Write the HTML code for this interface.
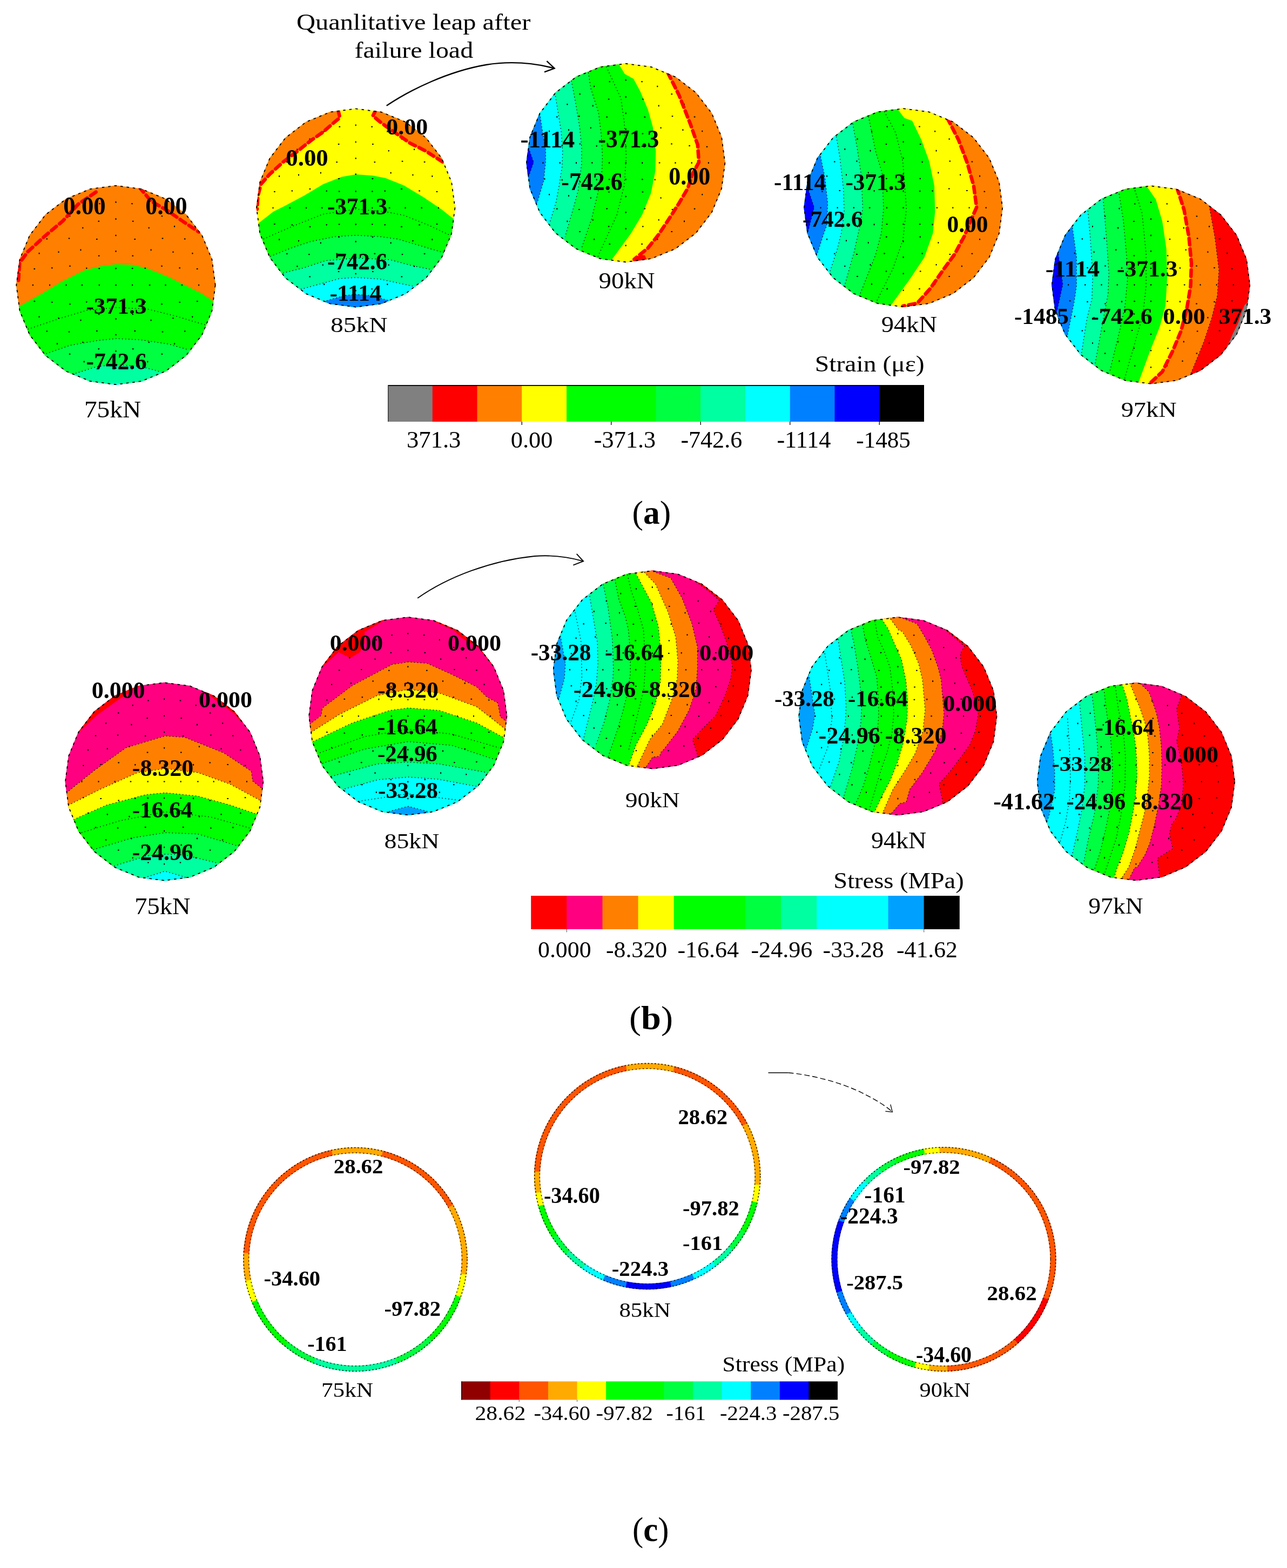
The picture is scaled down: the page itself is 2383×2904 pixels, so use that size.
<!DOCTYPE html>
<html><head><meta charset="utf-8"><title>figure</title><style>html,body{margin:0;padding:0;background:#fff}svg{display:block}</style></head><body>
<svg width="2383" height="2904" viewBox="0 0 2383 2904" font-family="'Liberation Serif', serif" shape-rendering="auto">
<rect width="2383" height="2904" fill="#fff"/>
<defs><clipPath id="kA75"><polygon points="399.3,528.0 393.0,575.8 374.5,620.4 345.2,658.7 306.9,688.0 262.3,706.5 214.5,712.8 166.7,706.5 122.1,688.0 83.8,658.7 54.5,620.4 36.0,575.8 29.7,528.0 36.0,480.2 54.5,435.6 83.8,397.3 122.1,368.0 166.7,349.5 214.5,343.2 262.3,349.5 306.9,368.0 345.2,397.3 374.5,435.6 393.0,480.2"/></clipPath><clipPath id="kA85"><polygon points="843.0,385.0 836.7,432.7 818.3,477.1 789.0,515.3 750.9,544.6 706.4,563.0 658.7,569.3 611.0,563.0 566.6,544.6 528.4,515.3 499.1,477.1 480.7,432.7 474.4,385.0 480.7,337.3 499.1,292.8 528.4,254.7 566.5,225.4 611.0,207.0 658.7,200.7 706.4,207.0 750.9,225.4 789.0,254.7 818.3,292.8 836.7,337.3"/></clipPath><clipPath id="kA90"><polygon points="1343.0,301.6 1336.7,349.3 1318.3,393.8 1289.0,431.9 1250.9,461.2 1206.4,479.6 1158.7,485.9 1111.0,479.6 1066.6,461.2 1028.4,431.9 999.1,393.8 980.7,349.3 974.4,301.6 980.7,253.9 999.1,209.4 1028.4,171.3 1066.5,142.0 1111.0,123.6 1158.7,117.3 1206.4,123.6 1250.9,142.0 1289.0,171.3 1318.3,209.4 1336.7,253.9"/></clipPath><clipPath id="kA94"><polygon points="1856.8,384.7 1850.5,432.4 1832.1,476.8 1802.8,514.9 1764.7,544.2 1720.3,562.6 1672.6,568.9 1624.9,562.6 1580.5,544.2 1542.4,514.9 1513.1,476.8 1494.7,432.4 1488.4,384.7 1494.7,337.0 1513.1,292.6 1542.4,254.5 1580.5,225.2 1624.9,206.8 1672.6,200.5 1720.3,206.8 1764.7,225.2 1802.8,254.5 1832.1,292.6 1850.5,337.0"/></clipPath><clipPath id="kA97"><polygon points="2314.8,527.5 2308.5,575.1 2290.2,619.4 2261.0,657.5 2222.9,686.7 2178.6,705.0 2131.0,711.3 2083.4,705.0 2039.1,686.7 2001.0,657.5 1971.8,619.4 1953.5,575.1 1947.2,527.5 1953.5,479.9 1971.8,435.6 2001.0,397.5 2039.1,368.3 2083.4,350.0 2131.0,343.7 2178.6,350.0 2222.9,368.3 2261.0,397.5 2290.2,435.6 2308.5,479.9"/></clipPath><clipPath id="kB75"><polygon points="488.0,1447.5 481.7,1495.1 463.4,1539.4 434.2,1577.5 396.1,1606.7 351.8,1625.0 304.2,1631.3 256.6,1625.0 212.3,1606.7 174.2,1577.5 145.0,1539.4 126.7,1495.1 120.4,1447.5 126.7,1399.9 145.0,1355.6 174.2,1317.5 212.3,1288.3 256.6,1270.0 304.2,1263.7 351.8,1270.0 396.1,1288.3 434.2,1317.5 463.4,1355.6 481.7,1399.9"/></clipPath><clipPath id="kB85"><polygon points="939.1,1326.2 932.8,1373.8 914.5,1418.1 885.3,1456.2 847.2,1485.4 802.9,1503.7 755.3,1510.0 707.7,1503.7 663.4,1485.4 625.3,1456.2 596.1,1418.1 577.8,1373.8 571.5,1326.2 577.8,1278.6 596.1,1234.3 625.3,1196.2 663.4,1167.0 707.7,1148.7 755.3,1142.4 802.9,1148.7 847.2,1167.0 885.3,1196.2 914.5,1234.3 932.8,1278.6"/></clipPath><clipPath id="kB90"><polygon points="1391.6,1240.4 1385.3,1288.0 1367.0,1332.3 1337.8,1370.4 1299.7,1399.6 1255.4,1417.9 1207.8,1424.2 1160.2,1417.9 1115.9,1399.6 1077.8,1370.4 1048.6,1332.3 1030.3,1288.0 1024.0,1240.4 1030.3,1192.8 1048.6,1148.5 1077.8,1110.4 1115.9,1081.2 1160.2,1062.9 1207.8,1056.6 1255.4,1062.9 1299.7,1081.2 1337.8,1110.4 1367.0,1148.5 1385.3,1192.8"/></clipPath><clipPath id="kB94"><polygon points="1846.2,1326.3 1839.9,1373.9 1821.6,1418.2 1792.4,1456.3 1754.3,1485.5 1710.0,1503.8 1662.4,1510.1 1614.8,1503.8 1570.5,1485.5 1532.4,1456.3 1503.2,1418.2 1484.9,1373.9 1478.6,1326.3 1484.9,1278.7 1503.2,1234.4 1532.4,1196.3 1570.5,1167.1 1614.8,1148.8 1662.4,1142.5 1710.0,1148.8 1754.3,1167.1 1792.4,1196.3 1821.6,1234.4 1839.9,1278.7"/></clipPath><clipPath id="kB97"><polygon points="2286.8,1447.7 2280.6,1495.2 2262.2,1539.4 2233.1,1577.4 2195.1,1606.5 2150.9,1624.9 2103.4,1631.1 2055.9,1624.9 2011.7,1606.5 1973.7,1577.4 1944.6,1539.4 1926.2,1495.2 1920.0,1447.7 1926.2,1400.2 1944.6,1356.0 1973.7,1318.0 2011.7,1288.9 2055.9,1270.5 2103.4,1264.3 2150.9,1270.5 2195.1,1288.9 2233.1,1318.0 2262.2,1356.0 2280.6,1400.2"/></clipPath></defs>
<g clip-path="url(#kA75)"><rect x="28.5" y="342.0" width="372.0" height="372.0" fill="#FF8000"/><polygon points="-49.5,586.6 1.5,586.6 36.3,567.0 77.8,543.6 116.6,520.3 155.5,500.9 186.6,493.1 215.1,489.2 246.2,490.5 272.2,497.0 311.0,512.5 337.0,525.5 373.2,543.6 395.3,557.9 428.9,579.6 478.5,579.6 478.5,792.0 -49.5,792.0" fill="#00FF00"/><polygon points="-49.5,668.4 47.8,668.4 85.5,655.1 129.6,639.6 181.4,630.5 215.1,627.1 259.2,629.2 311.0,637.0 347.3,647.3 385.8,658.2 478.5,658.2 478.5,792.0 -49.5,792.0" fill="#00FF40"/><polygon points="-49.5,703.4 101.8,703.4 140.0,691.4 181.4,678.4 215.1,675.8 259.2,678.4 298.1,688.8 336.7,699.1 478.5,699.1 478.5,792.0 -49.5,792.0" fill="#00FFA0"/><polygon points="-49.5,728.8 163.2,728.8 200.0,713.0 207.0,710.0 215.0,709.0 223.0,710.0 230.0,713.0 266.8,728.8 478.5,728.8 478.5,792.0 -49.5,792.0" fill="#00FFFF"/><g fill="none" stroke="#000" stroke-width="1.3" stroke-dasharray="1.6 4.4"><polyline points="51.8,609.7 108.9,590.3 160.7,574.8 215.1,569.6 272.2,572.2 324.0,585.1 381.0,602.0"/><polyline points="85.5,655.1 129.6,639.6 181.4,630.5 215.1,627.1 259.2,629.2 311.0,637.0 347.3,647.3"/><polyline points="140.0,691.4 181.4,678.4 215.1,675.8 259.2,678.4 298.1,688.8"/></g><path d="M182.5 496.3h2.6v2.0h-2.6zM182.8 526.7h2.0v2.6h-2.0zM182.5 557.7h2.6v2.0h-2.6zM213.5 496.0h2.0v2.6h-2.0zM213.2 527.0h2.6v2.0h-2.6zM213.5 557.4h2.0v2.6h-2.0zM243.9 496.3h2.6v2.0h-2.6zM244.2 526.7h2.0v2.6h-2.0zM243.9 557.7h2.6v2.0h-2.6zM213.5 464.1h2.0v2.6h-2.0zM244.5 472.8h2.6v2.0h-2.6zM267.7 495.4h2.0v2.6h-2.0zM275.8 527.0h2.6v2.0h-2.6zM267.7 558.0h2.0v2.6h-2.0zM244.5 581.2h2.6v2.0h-2.6zM213.5 589.3h2.0v2.6h-2.0zM181.9 581.2h2.6v2.0h-2.6zM159.3 558.0h2.0v2.6h-2.0zM150.6 527.0h2.6v2.0h-2.6zM159.3 495.4h2.0v2.6h-2.0zM181.9 472.8h2.6v2.0h-2.6zM213.5 434.7h2.0v2.6h-2.0zM248.4 442.0h2.6v2.0h-2.6zM278.6 461.6h2.0v2.6h-2.0zM298.2 491.8h2.6v2.0h-2.6zM305.5 526.7h2.0v2.6h-2.0zM298.2 562.2h2.6v2.0h-2.6zM278.6 591.8h2.0v2.6h-2.0zM248.4 612.0h2.6v2.0h-2.6zM213.5 618.7h2.0v2.6h-2.0zM178.0 612.0h2.6v2.0h-2.6zM148.4 591.8h2.0v2.6h-2.0zM128.2 562.2h2.6v2.0h-2.6zM121.5 526.7h2.0v2.6h-2.0zM128.2 491.8h2.6v2.0h-2.6zM148.4 461.6h2.0v2.6h-2.0zM178.0 442.0h2.6v2.0h-2.6zM213.5 404.3h2.0v2.6h-2.0zM244.9 408.8h2.6v2.0h-2.6zM274.7 420.7h2.0v2.6h-2.0zM299.7 440.5h2.6v2.0h-2.6zM319.5 465.5h2.0v2.6h-2.0zM331.4 495.3h2.6v2.0h-2.6zM335.9 526.7h2.0v2.6h-2.0zM331.4 558.7h2.6v2.0h-2.6zM319.5 587.9h2.0v2.6h-2.0zM299.7 613.5h2.6v2.0h-2.6zM274.7 632.7h2.0v2.6h-2.0zM244.9 645.2h2.6v2.0h-2.6zM213.5 649.1h2.0v2.6h-2.0zM181.5 645.2h2.6v2.0h-2.6zM152.3 632.7h2.0v2.6h-2.0zM126.7 613.5h2.6v2.0h-2.6zM107.5 587.9h2.0v2.6h-2.0zM95.0 558.7h2.6v2.0h-2.6zM91.1 526.7h2.0v2.6h-2.0zM95.0 495.3h2.6v2.0h-2.6zM107.5 465.5h2.0v2.6h-2.0zM126.7 440.5h2.6v2.0h-2.6zM152.3 420.7h2.0v2.6h-2.0zM181.5 408.8h2.6v2.0h-2.6zM213.5 373.1h2.0v2.6h-2.0zM243.2 376.3h2.6v2.0h-2.6zM272.3 384.8h2.0v2.6h-2.0zM298.6 399.3h2.6v2.0h-2.6zM322.1 418.1h2.0v2.6h-2.0zM340.9 441.6h2.6v2.0h-2.6zM355.4 467.9h2.0v2.6h-2.0zM363.9 497.0h2.6v2.0h-2.6zM367.1 526.7h2.0v2.6h-2.0zM363.9 557.0h2.6v2.0h-2.6zM355.4 585.5h2.0v2.6h-2.0zM340.9 612.4h2.6v2.0h-2.6zM322.1 635.3h2.0v2.6h-2.0zM298.6 654.7h2.6v2.0h-2.6zM272.3 668.6h2.0v2.6h-2.0zM243.2 677.7h2.6v2.0h-2.6zM213.5 680.3h2.0v2.6h-2.0zM183.2 677.7h2.6v2.0h-2.6zM154.7 668.6h2.0v2.6h-2.0zM127.8 654.7h2.6v2.0h-2.6zM104.9 635.3h2.0v2.6h-2.0zM85.5 612.4h2.6v2.0h-2.6zM71.6 585.5h2.0v2.6h-2.0zM62.5 557.0h2.6v2.0h-2.6zM59.9 526.7h2.0v2.6h-2.0zM62.5 497.0h2.6v2.0h-2.6zM71.6 467.9h2.0v2.6h-2.0zM85.5 441.6h2.6v2.0h-2.6zM104.9 418.1h2.0v2.6h-2.0zM127.8 399.3h2.6v2.0h-2.6zM154.7 384.8h2.0v2.6h-2.0zM183.2 376.3h2.6v2.0h-2.6z" fill="#000"/><polyline points="177.6,355.7 145.2,377.8 116.6,408.9 82.9,437.4 51.8,465.9 36.3,486.6 33.7,525.5" fill="none" stroke="#FF0000" stroke-width="6.5" stroke-dasharray="12 7.5" stroke-linecap="round"/><polyline points="257.9,346.7 279.9,372.6 311.0,390.7 337.0,408.9 368.1,429.6" fill="none" stroke="#FF0000" stroke-width="6.5" stroke-dasharray="12 7.5" stroke-linecap="round"/></g><polygon points="398.7,528.0 392.4,575.7 374.0,620.1 344.7,658.2 306.6,687.5 262.2,705.9 214.5,712.2 166.8,705.9 122.4,687.5 84.3,658.2 55.0,620.1 36.6,575.7 30.3,528.0 36.6,480.3 55.0,435.9 84.3,397.8 122.4,368.5 166.8,350.1 214.5,343.8 262.2,350.1 306.6,368.5 344.7,397.8 374.0,435.9 392.4,480.3" fill="none" stroke="#000" stroke-width="1.8" stroke-dasharray="4.5 7"/>
<text x="117.3" y="397.0" font-size="46.3" font-weight="bold" textLength="78.4" lengthAdjust="spacingAndGlyphs">0.00</text>
<text x="269.3" y="397.0" font-size="46.3" font-weight="bold" textLength="77.4" lengthAdjust="spacingAndGlyphs">0.00</text>
<text x="159.4" y="581.0" font-size="42.0" font-weight="bold" textLength="112.1" lengthAdjust="spacingAndGlyphs">-371.3</text>
<text x="159.4" y="684.0" font-size="43.5" font-weight="bold">-742.6</text>
<text x="155.9" y="773.0" font-size="44.7" textLength="105.2" lengthAdjust="spacingAndGlyphs">75kN</text>
<g clip-path="url(#kA85)"><rect x="473.2" y="199.5" width="371.0" height="371.0" fill="#FFFF00"/><polygon points="395.2,437.3 448.1,437.3 479.6,412.7 506.1,392.0 529.1,380.5 563.7,362.0 598.2,341.3 632.8,327.5 659.3,322.9 690.4,325.2 713.5,329.8 748.0,343.6 782.6,364.3 817.1,387.4 840.2,405.8 871.5,430.7 922.2,430.7 922.2,648.5 395.2,648.5" fill="#00FF00"/><polygon points="395.2,489.7 463.2,489.7 500.3,474.9 540.6,458.8 575.2,447.3 621.3,438.1 659.3,435.8 701.9,438.1 736.5,442.7 782.6,456.5 821.7,468.0 860.1,479.3 922.2,479.3 922.2,648.5 395.2,648.5" fill="#00FF40"/><polygon points="395.2,515.5 485.2,515.5 524.0,505.7 563.7,495.7 603.2,482.7 659.4,478.1 721.2,480.8 759.5,491.1 798.6,499.3 837.7,507.5 922.2,507.5 922.2,648.5 395.2,648.5" fill="#00FFA0"/><polygon points="395.2,527.6 517.4,527.6 556.8,534.8 559.0,535.2 629.0,515.9 659.4,514.0 702.8,516.8 767.3,530.6 806.4,539.0 922.2,539.0 922.2,648.5 395.2,648.5" fill="#00FFFF"/><polygon points="395.2,585.8 569.4,585.8 600.0,560.0 603.2,557.3 638.2,547.2 659.4,545.3 684.3,547.2 719.4,556.4 722.0,559.0 750.3,587.3 922.2,587.3 922.2,648.5 395.2,648.5" fill="#0080FF"/><polygon points="625.9,203.0 629.4,218.0 616.7,228.4 598.2,244.5 575.2,260.6 552.2,279.1 524.5,299.8 499.2,322.9 483.0,341.3 477.3,364.3 476.1,387.4 420.0,387.4 420.0,150.0 625.9,150.0" fill="#FF8000"/><polygon points="696.2,203.0 690.4,214.6 704.2,226.1 713.5,233.0 736.5,249.1 759.5,265.3 787.2,279.1 819.4,299.8 900.0,299.8 900.0,150.0 696.2,150.0" fill="#FF8000"/><g fill="none" stroke="#000" stroke-width="1.3" stroke-dasharray="1.6 4.4"><polyline points="487.6,442.7 540.6,419.6 598.2,396.6 659.3,387.4 713.5,392.0 748.0,398.9 794.1,417.3 833.3,435.8"/><polyline points="500.3,474.9 540.6,458.8 575.2,447.3 621.3,438.1 659.3,435.8 701.9,438.1 736.5,442.7 782.6,456.5 821.7,468.0"/><polyline points="524.0,505.7 563.7,495.7 603.2,482.7 659.4,478.1 721.2,480.8 759.5,491.1 798.6,499.3"/><polyline points="556.8,534.8 559.0,535.2 629.0,515.9 659.4,514.0 702.8,516.8 767.3,530.6"/><polyline points="600.0,560.0 603.2,557.3 638.2,547.2 659.4,545.3 684.3,547.2 719.4,556.4 722.0,559.0"/></g><path d="M626.8 353.4h2.6v2.0h-2.6zM627.1 383.7h2.0v2.6h-2.0zM626.8 414.6h2.6v2.0h-2.6zM657.7 353.1h2.0v2.6h-2.0zM657.4 384.0h2.6v2.0h-2.6zM657.7 414.3h2.0v2.6h-2.0zM688.0 353.4h2.6v2.0h-2.6zM688.3 383.7h2.0v2.6h-2.0zM688.0 414.6h2.6v2.0h-2.6zM657.7 321.3h2.0v2.6h-2.0zM688.6 330.0h2.6v2.0h-2.6zM711.7 352.5h2.0v2.6h-2.0zM719.8 384.0h2.6v2.0h-2.6zM711.7 414.9h2.0v2.6h-2.0zM688.6 438.0h2.6v2.0h-2.6zM657.7 446.1h2.0v2.6h-2.0zM626.2 438.0h2.6v2.0h-2.6zM603.7 414.9h2.0v2.6h-2.0zM595.0 384.0h2.6v2.0h-2.6zM603.7 352.5h2.0v2.6h-2.0zM626.2 330.0h2.6v2.0h-2.6zM657.7 291.9h2.0v2.6h-2.0zM692.5 299.2h2.6v2.0h-2.6zM722.6 318.8h2.0v2.6h-2.0zM742.2 348.9h2.6v2.0h-2.6zM749.5 383.7h2.0v2.6h-2.0zM742.2 419.1h2.6v2.0h-2.6zM722.6 448.6h2.0v2.6h-2.0zM692.5 468.8h2.6v2.0h-2.6zM657.7 475.4h2.0v2.6h-2.0zM622.3 468.8h2.6v2.0h-2.6zM592.8 448.6h2.0v2.6h-2.0zM572.6 419.1h2.6v2.0h-2.6zM566.0 383.7h2.0v2.6h-2.0zM572.6 348.9h2.6v2.0h-2.6zM592.8 318.8h2.0v2.6h-2.0zM622.3 299.2h2.6v2.0h-2.6zM657.7 261.7h2.0v2.6h-2.0zM689.0 266.1h2.6v2.0h-2.6zM718.7 278.0h2.0v2.6h-2.0zM743.7 297.7h2.6v2.0h-2.6zM763.4 322.7h2.0v2.6h-2.0zM775.3 352.4h2.6v2.0h-2.6zM779.7 383.7h2.0v2.6h-2.0zM775.3 415.6h2.6v2.0h-2.6zM763.4 444.7h2.0v2.6h-2.0zM743.7 470.3h2.6v2.0h-2.6zM718.7 489.4h2.0v2.6h-2.0zM689.0 501.9h2.6v2.0h-2.6zM657.7 505.7h2.0v2.6h-2.0zM625.8 501.9h2.6v2.0h-2.6zM596.7 489.4h2.0v2.6h-2.0zM571.1 470.3h2.6v2.0h-2.6zM552.0 444.7h2.0v2.6h-2.0zM539.5 415.6h2.6v2.0h-2.6zM535.7 383.7h2.0v2.6h-2.0zM539.5 352.4h2.6v2.0h-2.6zM552.0 322.7h2.0v2.6h-2.0zM571.1 297.7h2.6v2.0h-2.6zM596.7 278.0h2.0v2.6h-2.0zM625.8 266.1h2.6v2.0h-2.6zM657.7 230.5h2.0v2.6h-2.0zM687.3 233.7h2.6v2.0h-2.6zM716.3 242.1h2.0v2.6h-2.0zM742.5 256.6h2.6v2.0h-2.6zM766.0 275.4h2.0v2.6h-2.0zM784.8 298.9h2.6v2.0h-2.6zM799.3 325.1h2.0v2.6h-2.0zM807.7 354.1h2.6v2.0h-2.6zM810.9 383.7h2.0v2.6h-2.0zM807.7 413.9h2.6v2.0h-2.6zM799.3 442.3h2.0v2.6h-2.0zM784.8 469.1h2.6v2.0h-2.6zM766.0 492.0h2.0v2.6h-2.0zM742.5 511.4h2.6v2.0h-2.6zM716.3 525.3h2.0v2.6h-2.0zM687.3 534.3h2.6v2.0h-2.6zM657.7 536.9h2.0v2.6h-2.0zM627.5 534.3h2.6v2.0h-2.6zM599.1 525.3h2.0v2.6h-2.0zM572.3 511.4h2.6v2.0h-2.6zM549.4 492.0h2.0v2.6h-2.0zM530.0 469.1h2.6v2.0h-2.6zM516.1 442.3h2.0v2.6h-2.0zM507.1 413.9h2.6v2.0h-2.6zM504.5 383.7h2.0v2.6h-2.0zM507.1 354.1h2.6v2.0h-2.6zM516.1 325.1h2.0v2.6h-2.0zM530.0 298.9h2.6v2.0h-2.6zM549.4 275.4h2.0v2.6h-2.0zM572.3 256.6h2.6v2.0h-2.6zM599.1 242.1h2.0v2.6h-2.0zM627.5 233.7h2.6v2.0h-2.6z" fill="#000"/><polyline points="625.9,203.0 629.4,218.0 616.7,228.4 598.2,244.5 575.2,260.6 552.2,279.1 524.5,299.8 499.2,322.9 483.0,341.3 477.3,364.3 476.1,387.4" fill="none" stroke="#FF0000" stroke-width="6.5" stroke-dasharray="12 7.5" stroke-linecap="round"/><polyline points="696.2,203.0 690.4,214.6 704.2,226.1 713.5,233.0 736.5,249.1 759.5,265.3 787.2,279.1 819.4,299.8" fill="none" stroke="#FF0000" stroke-width="6.5" stroke-dasharray="12 7.5" stroke-linecap="round"/></g><polygon points="842.4,385.0 836.1,432.5 817.8,476.8 788.6,514.9 750.6,544.1 706.2,562.4 658.7,568.7 611.2,562.4 566.9,544.1 528.8,514.9 499.6,476.8 481.3,432.5 475.0,385.0 481.3,337.5 499.6,293.1 528.8,255.1 566.8,225.9 611.2,207.6 658.7,201.3 706.2,207.6 750.6,225.9 788.6,255.1 817.8,293.1 836.1,337.5" fill="none" stroke="#000" stroke-width="1.8" stroke-dasharray="4.5 7"/>
<text x="529.3" y="307.0" font-size="44.8" font-weight="bold">0.00</text>
<text x="715.3" y="249.0" font-size="42.6" font-weight="bold" textLength="76.9" lengthAdjust="spacingAndGlyphs">0.00</text>
<text x="605.9" y="396.6" font-size="44.4" font-weight="bold" textLength="111.4" lengthAdjust="spacingAndGlyphs">-371.3</text>
<text x="605.9" y="499.0" font-size="45.0" font-weight="bold" textLength="111.1" lengthAdjust="spacingAndGlyphs">-742.6</text>
<text x="610.4" y="556.7" font-size="43.2" font-weight="bold">-1114</text>
<text x="611.9" y="615.0" font-size="40.8" textLength="105.7" lengthAdjust="spacingAndGlyphs">85kN</text>
<g clip-path="url(#kA90)"><rect x="973.2" y="116.1" width="371.0" height="371.0" fill="#FF8000"/><polygon points="1218.6,38.1 1218.6,98.8 1236.5,134.6 1257.2,176.0 1278.0,229.0 1291.8,268.2 1294.0,300.5 1282.6,321.2 1273.4,348.8 1257.2,376.5 1236.5,408.8 1218.0,436.4 1199.6,459.4 1174.3,480.2 1143.4,505.6 1143.4,565.1 895.2,565.1 895.2,38.1" fill="#FFFF00"/><polygon points="1126.0,38.1 1126.0,86.7 1146.9,120.8 1156.8,137.0 1173.0,146.0 1185.5,169.3 1199.9,203.4 1208.9,235.7 1214.3,280.6 1213.4,316.5 1205.3,357.8 1189.1,397.4 1167.6,433.3 1133.4,480.0 1109.8,512.3 1109.8,565.1 895.2,565.1 895.2,38.1" fill="#00FF00"/><polygon points="1083.3,38.1 1083.3,94.7 1089.4,134.2 1094.0,163.9 1108.3,208.8 1113.7,253.7 1115.5,289.6 1114.6,316.5 1106.5,359.6 1095.7,404.5 1076.0,462.0 1063.0,499.8 1063.0,565.1 895.2,565.1 895.2,38.1" fill="#00FF40"/><polygon points="1050.5,38.1 1050.5,110.2 1058.0,149.5 1065.2,187.2 1073.3,235.7 1076.9,271.6 1076.9,304.0 1070.6,352.5 1063.4,379.4 1046.3,438.7 1035.2,477.1 1035.2,565.1 895.2,565.1 895.2,38.1" fill="#00FFA0"/><polygon points="1021.1,38.1 1021.1,132.5 1027.5,172.0 1032.0,199.8 1039.1,243.0 1041.8,280.6 1041.0,307.6 1034.7,347.0 1029.3,375.8 1017.6,413.5 1005.7,451.7 1005.7,565.1 895.2,565.1 895.2,38.1" fill="#00FFFF"/><polygon points="993.9,38.1 993.9,171.0 999.6,210.6 1003.2,235.7 1010.4,277.0 1010.4,298.6 1006.8,334.5 995.1,374.0 983.7,412.4 983.7,565.1 895.2,565.1 895.2,38.1" fill="#0080FF"/><polygon points="950.6,38.1 950.6,238.3 975.0,270.0 979.0,275.2 988.0,300.4 978.0,329.0 975.0,334.0 954.4,368.3 954.4,565.1 895.2,565.1 895.2,38.1" fill="#0000FF"/><polygon points="1175.0,484.0 1178.0,476.0 1186.0,472.0 1194.0,473.0 1197.0,480.0 1196.0,488.0 1176.0,488.0" fill="#FF0000"/><g fill="none" stroke="#000" stroke-width="1.3" stroke-dasharray="1.6 4.4"><polyline points="1122.7,123.5 1149.6,181.8 1155.9,226.7 1159.5,289.6 1155.9,343.5 1142.4,397.4 1106.5,476.4"/><polyline points="1089.4,134.2 1094.0,163.9 1108.3,208.8 1113.7,253.7 1115.5,289.6 1114.6,316.5 1106.5,359.6 1095.7,404.5 1076.0,462.0"/><polyline points="1058.0,149.5 1065.2,187.2 1073.3,235.7 1076.9,271.6 1076.9,304.0 1070.6,352.5 1063.4,379.4 1046.3,438.7"/><polyline points="1027.5,172.0 1032.0,199.8 1039.1,243.0 1041.8,280.6 1041.0,307.6 1034.7,347.0 1029.3,375.8 1017.6,413.5"/><polyline points="999.6,210.6 1003.2,235.7 1010.4,277.0 1010.4,298.6 1006.8,334.5 995.1,374.0"/><polyline points="975.0,270.0 979.0,275.2 988.0,300.4 978.0,329.0 975.0,334.0"/></g><path d="M1126.8 270.0h2.6v2.0h-2.6zM1127.1 300.3h2.0v2.6h-2.0zM1126.8 331.2h2.6v2.0h-2.6zM1157.7 269.7h2.0v2.6h-2.0zM1157.4 300.6h2.6v2.0h-2.6zM1157.7 330.9h2.0v2.6h-2.0zM1188.0 270.0h2.6v2.0h-2.6zM1188.3 300.3h2.0v2.6h-2.0zM1188.0 331.2h2.6v2.0h-2.6zM1157.7 237.9h2.0v2.6h-2.0zM1188.6 246.6h2.6v2.0h-2.6zM1211.7 269.1h2.0v2.6h-2.0zM1219.8 300.6h2.6v2.0h-2.6zM1211.7 331.5h2.0v2.6h-2.0zM1188.6 354.6h2.6v2.0h-2.6zM1157.7 362.7h2.0v2.6h-2.0zM1126.2 354.6h2.6v2.0h-2.6zM1103.7 331.5h2.0v2.6h-2.0zM1095.0 300.6h2.6v2.0h-2.6zM1103.7 269.1h2.0v2.6h-2.0zM1126.2 246.6h2.6v2.0h-2.6zM1157.7 208.6h2.0v2.6h-2.0zM1192.5 215.8h2.6v2.0h-2.6zM1222.6 235.4h2.0v2.6h-2.0zM1242.2 265.5h2.6v2.0h-2.6zM1249.5 300.3h2.0v2.6h-2.0zM1242.2 335.7h2.6v2.0h-2.6zM1222.6 365.2h2.0v2.6h-2.0zM1192.5 385.4h2.6v2.0h-2.6zM1157.7 392.1h2.0v2.6h-2.0zM1122.3 385.4h2.6v2.0h-2.6zM1092.8 365.2h2.0v2.6h-2.0zM1072.6 335.7h2.6v2.0h-2.6zM1066.0 300.3h2.0v2.6h-2.0zM1072.6 265.5h2.6v2.0h-2.6zM1092.8 235.4h2.0v2.6h-2.0zM1122.3 215.8h2.6v2.0h-2.6zM1157.7 178.3h2.0v2.6h-2.0zM1189.0 182.7h2.6v2.0h-2.6zM1218.7 194.6h2.0v2.6h-2.0zM1243.7 214.3h2.6v2.0h-2.6zM1263.4 239.3h2.0v2.6h-2.0zM1275.3 269.0h2.6v2.0h-2.6zM1279.7 300.3h2.0v2.6h-2.0zM1275.3 332.2h2.6v2.0h-2.6zM1263.4 361.3h2.0v2.6h-2.0zM1243.7 386.9h2.6v2.0h-2.6zM1218.7 406.0h2.0v2.6h-2.0zM1189.0 418.5h2.6v2.0h-2.6zM1157.7 422.3h2.0v2.6h-2.0zM1125.8 418.5h2.6v2.0h-2.6zM1096.7 406.0h2.0v2.6h-2.0zM1071.1 386.9h2.6v2.0h-2.6zM1052.0 361.3h2.0v2.6h-2.0zM1039.5 332.2h2.6v2.0h-2.6zM1035.7 300.3h2.0v2.6h-2.0zM1039.5 269.0h2.6v2.0h-2.6zM1052.0 239.3h2.0v2.6h-2.0zM1071.1 214.3h2.6v2.0h-2.6zM1096.7 194.6h2.0v2.6h-2.0zM1125.8 182.7h2.6v2.0h-2.6zM1157.7 147.1h2.0v2.6h-2.0zM1187.3 150.3h2.6v2.0h-2.6zM1216.3 158.7h2.0v2.6h-2.0zM1242.5 173.2h2.6v2.0h-2.6zM1266.0 192.0h2.0v2.6h-2.0zM1284.8 215.5h2.6v2.0h-2.6zM1299.3 241.7h2.0v2.6h-2.0zM1307.7 270.7h2.6v2.0h-2.6zM1310.9 300.3h2.0v2.6h-2.0zM1307.7 330.5h2.6v2.0h-2.6zM1299.3 358.9h2.0v2.6h-2.0zM1284.8 385.7h2.6v2.0h-2.6zM1266.0 408.6h2.0v2.6h-2.0zM1242.5 428.0h2.6v2.0h-2.6zM1216.3 441.9h2.0v2.6h-2.0zM1187.3 450.9h2.6v2.0h-2.6zM1157.7 453.5h2.0v2.6h-2.0zM1127.5 450.9h2.6v2.0h-2.6zM1099.1 441.9h2.0v2.6h-2.0zM1072.3 428.0h2.6v2.0h-2.6zM1049.4 408.6h2.0v2.6h-2.0zM1030.0 385.7h2.6v2.0h-2.6zM1016.1 358.9h2.0v2.6h-2.0zM1007.1 330.5h2.6v2.0h-2.6zM1004.5 300.3h2.0v2.6h-2.0zM1007.1 270.7h2.6v2.0h-2.6zM1016.1 241.7h2.0v2.6h-2.0zM1030.0 215.5h2.6v2.0h-2.6zM1049.4 192.0h2.0v2.6h-2.0zM1072.3 173.2h2.6v2.0h-2.6zM1099.1 158.7h2.0v2.6h-2.0zM1127.5 150.3h2.6v2.0h-2.6z" fill="#000"/><polyline points="1236.5,134.6 1257.2,176.0 1278.0,229.0 1291.8,268.2 1294.0,300.5 1282.6,321.2 1273.4,348.8 1257.2,376.5 1236.5,408.8 1218.0,436.4 1199.6,459.4 1174.3,480.2" fill="none" stroke="#FF0000" stroke-width="6.5" stroke-dasharray="12 7.5" stroke-linecap="round"/></g><polygon points="1342.4,301.6 1336.1,349.1 1317.8,393.4 1288.6,431.5 1250.5,460.7 1206.2,479.0 1158.7,485.3 1111.2,479.0 1066.9,460.7 1028.8,431.5 999.6,393.4 981.3,349.1 975.0,301.6 981.3,254.1 999.6,209.8 1028.8,171.7 1066.8,142.5 1111.2,124.2 1158.7,117.9 1206.2,124.2 1250.5,142.5 1288.6,171.7 1317.8,209.7 1336.1,254.1" fill="none" stroke="#000" stroke-width="1.8" stroke-dasharray="4.5 7"/>
<text x="963.4" y="273.4" font-size="44.7" font-weight="bold" textLength="100.9" lengthAdjust="spacingAndGlyphs">-1114</text>
<text x="1107.6" y="273.4" font-size="45.9" font-weight="bold" textLength="112.6" lengthAdjust="spacingAndGlyphs">-371.3</text>
<text x="1039.3" y="351.6" font-size="45.9" font-weight="bold" textLength="113.4" lengthAdjust="spacingAndGlyphs">-742.6</text>
<text x="1238.3" y="342.0" font-size="46.3" font-weight="bold" textLength="77.1" lengthAdjust="spacingAndGlyphs">0.00</text>
<text x="1108.6" y="534.0" font-size="43.2" textLength="104.0" lengthAdjust="spacingAndGlyphs">90kN</text>
<g clip-path="url(#kA94)"><rect x="1487.2" y="199.3" width="370.8" height="370.8" fill="#FF8000"/><polygon points="1735.6,121.3 1735.6,182.8 1753.9,218.4 1775.0,259.5 1791.0,301.9 1802.9,344.3 1808.2,384.0 1798.9,405.2 1785.7,437.0 1767.1,471.5 1745.9,500.6 1722.0,535.0 1698.2,561.6 1671.7,566.9 1632.5,574.7 1632.5,648.1 1409.2,648.1 1409.2,121.3" fill="#FFFF00"/><polygon points="1638.3,121.3 1638.3,170.6 1662.4,202.5 1674.4,218.4 1689.0,223.7 1706.2,259.5 1720.7,299.2 1730.0,344.3 1731.3,392.0 1727.4,431.7 1711.5,476.8 1685.0,516.5 1650.5,564.2 1627.1,596.6 1627.1,648.1 1409.2,648.1 1409.2,121.3" fill="#00FF00"/><polygon points="1600.1,121.3 1600.1,176.6 1608.1,215.8 1621.4,280.7 1633.3,320.4 1636.0,386.7 1632.0,431.7 1621.4,471.5 1592.2,545.7 1577.6,582.9 1577.6,648.1 1409.2,648.1 1409.2,121.3" fill="#00FF40"/><polygon points="1571.9,121.3 1571.9,189.6 1579.0,229.0 1586.9,272.7 1594.9,325.7 1597.5,386.7 1592.2,418.5 1581.6,466.2 1564.4,527.1 1553.5,565.6 1553.5,648.1 1409.2,648.1 1409.2,121.3" fill="#00FFA0"/><polygon points="1541.7,121.3 1541.7,213.5 1548.5,252.9 1555.1,291.3 1561.8,349.6 1563.1,392.0 1557.8,431.7 1549.8,463.5 1536.6,503.3 1524.0,541.3 1524.0,648.1 1409.2,648.1 1409.2,121.3" fill="#00FFFF"/><polygon points="1511.3,121.3 1511.3,250.8 1519.4,290.0 1527.3,328.4 1532.6,376.0 1531.3,415.8 1524.7,434.4 1512.7,471.5 1500.4,509.6 1500.4,648.1 1409.2,648.1 1409.2,121.3" fill="#0080FF"/><polygon points="1482.8,121.3 1482.8,296.1 1492.0,335.0 1494.2,344.3 1507.4,384.0 1496.8,426.4 1494.0,434.0 1480.2,471.5 1480.2,648.1 1409.2,648.1 1409.2,121.3" fill="#0000FF"/><g fill="none" stroke="#000" stroke-width="1.3" stroke-dasharray="1.6 4.4"><polyline points="1637.3,206.5 1658.5,246.2 1671.7,299.2 1678.3,386.7 1671.7,445.0 1653.2,498.0 1621.4,561.6"/><polyline points="1608.1,215.8 1621.4,280.7 1633.3,320.4 1636.0,386.7 1632.0,431.7 1621.4,471.5 1592.2,545.7"/><polyline points="1579.0,229.0 1586.9,272.7 1594.9,325.7 1597.5,386.7 1592.2,418.5 1581.6,466.2 1564.4,527.1"/><polyline points="1548.5,252.9 1555.1,291.3 1561.8,349.6 1563.1,392.0 1557.8,431.7 1549.8,463.5 1536.6,503.3"/><polyline points="1519.4,290.0 1527.3,328.4 1532.6,376.0 1531.3,415.8 1524.7,434.4 1512.7,471.5"/><polyline points="1492.0,335.0 1494.2,344.3 1507.4,384.0 1496.8,426.4 1494.0,434.0"/></g><path d="M1640.7 353.1h2.6v2.0h-2.6zM1641.0 383.4h2.0v2.6h-2.0zM1640.7 414.3h2.6v2.0h-2.6zM1671.6 352.8h2.0v2.6h-2.0zM1671.3 383.7h2.6v2.0h-2.6zM1671.6 414.0h2.0v2.6h-2.0zM1701.9 353.1h2.6v2.0h-2.6zM1702.2 383.4h2.0v2.6h-2.0zM1701.9 414.3h2.6v2.0h-2.6zM1671.6 321.0h2.0v2.6h-2.0zM1702.5 329.7h2.6v2.0h-2.6zM1725.6 352.2h2.0v2.6h-2.0zM1733.7 383.7h2.6v2.0h-2.6zM1725.6 414.6h2.0v2.6h-2.0zM1702.5 437.7h2.6v2.0h-2.6zM1671.6 445.8h2.0v2.6h-2.0zM1640.1 437.7h2.6v2.0h-2.6zM1617.6 414.6h2.0v2.6h-2.0zM1608.9 383.7h2.6v2.0h-2.6zM1617.6 352.2h2.0v2.6h-2.0zM1640.1 329.7h2.6v2.0h-2.6zM1671.6 291.7h2.0v2.6h-2.0zM1706.4 299.0h2.6v2.0h-2.6zM1736.4 318.6h2.0v2.6h-2.0zM1756.0 348.6h2.6v2.0h-2.6zM1763.3 383.4h2.0v2.6h-2.0zM1756.0 418.8h2.6v2.0h-2.6zM1736.4 448.2h2.0v2.6h-2.0zM1706.4 468.4h2.6v2.0h-2.6zM1671.6 475.1h2.0v2.6h-2.0zM1636.2 468.4h2.6v2.0h-2.6zM1606.8 448.2h2.0v2.6h-2.0zM1586.6 418.8h2.6v2.0h-2.6zM1579.9 383.4h2.0v2.6h-2.0zM1586.6 348.6h2.6v2.0h-2.6zM1606.8 318.6h2.0v2.6h-2.0zM1636.2 299.0h2.6v2.0h-2.6zM1671.6 261.4h2.0v2.6h-2.0zM1702.9 265.9h2.6v2.0h-2.6zM1732.6 277.8h2.0v2.6h-2.0zM1757.5 297.5h2.6v2.0h-2.6zM1777.2 322.4h2.0v2.6h-2.0zM1789.1 352.1h2.6v2.0h-2.6zM1793.6 383.4h2.0v2.6h-2.0zM1789.1 415.3h2.6v2.0h-2.6zM1777.2 444.4h2.0v2.6h-2.0zM1757.5 469.9h2.6v2.0h-2.6zM1732.6 489.0h2.0v2.6h-2.0zM1702.9 501.5h2.6v2.0h-2.6zM1671.6 505.4h2.0v2.6h-2.0zM1639.7 501.5h2.6v2.0h-2.6zM1610.6 489.0h2.0v2.6h-2.0zM1585.1 469.9h2.6v2.0h-2.6zM1566.0 444.4h2.0v2.6h-2.0zM1553.5 415.3h2.6v2.0h-2.6zM1549.6 383.4h2.0v2.6h-2.0zM1553.5 352.1h2.6v2.0h-2.6zM1566.0 322.4h2.0v2.6h-2.0zM1585.1 297.5h2.6v2.0h-2.6zM1610.6 277.8h2.0v2.6h-2.0zM1639.7 265.9h2.6v2.0h-2.6zM1671.6 230.3h2.0v2.6h-2.0zM1701.2 233.5h2.6v2.0h-2.6zM1730.2 241.9h2.0v2.6h-2.0zM1756.4 256.4h2.6v2.0h-2.6zM1779.9 275.1h2.0v2.6h-2.0zM1798.6 298.6h2.6v2.0h-2.6zM1813.1 324.8h2.0v2.6h-2.0zM1821.5 353.8h2.6v2.0h-2.6zM1824.7 383.4h2.0v2.6h-2.0zM1821.5 413.6h2.6v2.0h-2.6zM1813.1 442.0h2.0v2.6h-2.0zM1798.6 468.8h2.6v2.0h-2.6zM1779.9 491.7h2.0v2.6h-2.0zM1756.4 511.0h2.6v2.0h-2.6zM1730.2 524.9h2.0v2.6h-2.0zM1701.2 533.9h2.6v2.0h-2.6zM1671.6 536.5h2.0v2.6h-2.0zM1641.4 533.9h2.6v2.0h-2.6zM1613.0 524.9h2.0v2.6h-2.0zM1586.2 511.0h2.6v2.0h-2.6zM1563.3 491.7h2.0v2.6h-2.0zM1544.0 468.8h2.6v2.0h-2.6zM1530.1 442.0h2.0v2.6h-2.0zM1521.1 413.6h2.6v2.0h-2.6zM1518.5 383.4h2.0v2.6h-2.0zM1521.1 353.8h2.6v2.0h-2.6zM1530.1 324.8h2.0v2.6h-2.0zM1544.0 298.6h2.6v2.0h-2.6zM1563.3 275.1h2.0v2.6h-2.0zM1586.2 256.4h2.6v2.0h-2.6zM1613.0 241.9h2.0v2.6h-2.0zM1641.4 233.5h2.6v2.0h-2.6z" fill="#000"/><polyline points="1753.9,218.4 1775.0,259.5 1791.0,301.9 1802.9,344.3 1808.2,384.0 1798.9,405.2 1785.7,437.0 1767.1,471.5 1745.9,500.6 1722.0,535.0 1698.2,561.6 1671.7,566.9" fill="none" stroke="#FF0000" stroke-width="6.5" stroke-dasharray="12 7.5" stroke-linecap="round"/></g><polygon points="1856.2,384.7 1849.9,432.2 1831.6,476.5 1802.4,514.5 1764.4,543.7 1720.1,562.0 1672.6,568.3 1625.1,562.0 1580.8,543.7 1542.8,514.5 1513.6,476.5 1495.3,432.2 1489.0,384.7 1495.3,337.2 1513.6,292.9 1542.8,254.9 1580.8,225.7 1625.1,207.4 1672.6,201.1 1720.1,207.4 1764.4,225.7 1802.4,254.9 1831.6,292.9 1849.9,337.2" fill="none" stroke="#000" stroke-width="1.8" stroke-dasharray="4.5 7"/>
<text x="1433.0" y="352.2" font-size="43.3" font-weight="bold">-1114</text>
<text x="1565.4" y="352.2" font-size="45.3" font-weight="bold" textLength="111.8" lengthAdjust="spacingAndGlyphs">-371.3</text>
<text x="1486.0" y="419.8" font-size="43.2" font-weight="bold">-742.6</text>
<text x="1753.5" y="430.4" font-size="45.1" font-weight="bold" textLength="76.1" lengthAdjust="spacingAndGlyphs">0.00</text>
<text x="1631.8" y="614.6" font-size="42.1" textLength="103.3" lengthAdjust="spacingAndGlyphs">94kN</text>
<g clip-path="url(#kA97)"><rect x="1946.0" y="342.5" width="370.0" height="370.0" fill="#FF0000"/><polygon points="2231.9,264.5 2231.9,342.0 2239.0,381.4 2249.5,439.8 2257.0,499.7 2254.0,547.7 2243.5,589.6 2228.5,634.6 2204.5,693.0 2189.3,730.0 2189.3,790.5 1868.0,790.5 1868.0,264.5" fill="#FF8000"/><polygon points="2166.7,264.5 2166.7,308.9 2179.0,347.0 2192.5,388.9 2201.5,439.8 2206.0,487.8 2204.5,529.7 2197.0,574.6 2186.5,613.6 2171.6,649.5 2152.1,688.5 2129.6,709.5 2100.4,736.8 2100.4,790.5 1868.0,790.5 1868.0,264.5" fill="#FFFF00"/><polygon points="2100.9,264.5 2100.9,312.6 2123.6,345.5 2140.1,369.4 2152.1,409.9 2159.6,460.8 2161.1,514.7 2158.1,565.7 2147.6,604.6 2129.6,649.5 2108.7,706.5 2094.9,744.1 2094.9,790.5 1868.0,790.5 1868.0,264.5" fill="#00FF00"/><polygon points="2065.0,264.5 2065.0,313.5 2071.2,353.0 2080.2,409.9 2086.2,475.8 2087.7,517.7 2083.2,565.7 2075.7,601.6 2054.7,688.5 2045.3,727.4 2045.3,790.5 1868.0,790.5 1868.0,264.5" fill="#00FF40"/><polygon points="2039.4,264.5 2039.4,328.1 2042.7,368.0 2048.7,439.8 2053.2,505.7 2051.7,544.7 2044.2,583.6 2027.8,673.5 2020.6,712.9 2020.6,790.5 1868.0,790.5 1868.0,264.5" fill="#00FFA0"/><polygon points="2010.7,264.5 2010.7,350.6 2014.3,390.4 2018.8,439.8 2023.3,511.7 2021.8,553.7 2012.8,589.6 2002.3,655.5 1996.0,695.0 1996.0,790.5 1868.0,790.5 1868.0,264.5" fill="#00FFFF"/><polygon points="1980.3,264.5 1980.3,382.3 1985.8,421.9 1993.3,475.8 1993.3,529.7 1988.8,559.7 1976.8,619.6 1968.9,658.8 1968.9,790.5 1868.0,790.5 1868.0,264.5" fill="#0080FF"/><polygon points="1935.1,264.5 1935.1,425.3 1955.0,460.0 1958.9,466.8 1967.8,526.7 1957.4,574.6 1954.0,582.0 1937.3,618.3 1937.3,790.5 1868.0,790.5 1868.0,264.5" fill="#0000FF"/><polygon points="2318.0,552.0 2304.3,565.3 2299.0,579.0 2291.7,600.0 2283.2,617.0 2275.9,633.8 2271.0,644.0 2340.0,644.0 2340.0,552.0" fill="#808080"/><g fill="none" stroke="#000" stroke-width="1.3" stroke-dasharray="1.6 4.4"><polyline points="2239.0,381.4 2249.5,439.8 2257.0,499.7 2254.0,547.7 2243.5,589.6 2228.5,634.6 2204.5,693.0"/><polyline points="2099.7,347.0 2114.6,394.9 2122.1,469.8 2122.1,529.7 2116.1,583.6 2081.7,703.5"/><polyline points="2071.2,353.0 2080.2,409.9 2086.2,475.8 2087.7,517.7 2083.2,565.7 2075.7,601.6 2054.7,688.5"/><polyline points="2042.7,368.0 2048.7,439.8 2053.2,505.7 2051.7,544.7 2044.2,583.6 2027.8,673.5"/><polyline points="2014.3,390.4 2018.8,439.8 2023.3,511.7 2021.8,553.7 2012.8,589.6 2002.3,655.5"/><polyline points="1985.8,421.9 1993.3,475.8 1993.3,529.7 1988.8,559.7 1976.8,619.6"/><polyline points="1955.0,460.0 1958.9,466.8 1967.8,526.7 1957.4,574.6 1954.0,582.0"/></g><path d="M2099.2 496.0h2.6v2.0h-2.6zM2099.5 526.2h2.0v2.6h-2.0zM2099.2 557.0h2.6v2.0h-2.6zM2130.0 495.7h2.0v2.6h-2.0zM2129.7 526.5h2.6v2.0h-2.6zM2130.0 556.7h2.0v2.6h-2.0zM2160.2 496.0h2.6v2.0h-2.6zM2160.5 526.2h2.0v2.6h-2.0zM2160.2 557.0h2.6v2.0h-2.6zM2130.0 464.0h2.0v2.6h-2.0zM2160.8 472.6h2.6v2.0h-2.6zM2183.9 495.1h2.0v2.6h-2.0zM2191.9 526.5h2.6v2.0h-2.6zM2183.9 557.3h2.0v2.6h-2.0zM2160.8 580.4h2.6v2.0h-2.6zM2130.0 588.4h2.0v2.6h-2.0zM2098.6 580.4h2.6v2.0h-2.6zM2076.1 557.3h2.0v2.6h-2.0zM2067.5 526.5h2.6v2.0h-2.6zM2076.1 495.1h2.0v2.6h-2.0zM2098.6 472.6h2.6v2.0h-2.6zM2130.0 434.7h2.0v2.6h-2.0zM2164.7 442.0h2.6v2.0h-2.6zM2194.7 461.5h2.0v2.6h-2.0zM2214.2 491.5h2.6v2.0h-2.6zM2221.5 526.2h2.0v2.6h-2.0zM2214.2 561.5h2.6v2.0h-2.6zM2194.7 590.9h2.0v2.6h-2.0zM2164.7 611.0h2.6v2.0h-2.6zM2130.0 617.7h2.0v2.6h-2.0zM2094.7 611.0h2.6v2.0h-2.6zM2065.3 590.9h2.0v2.6h-2.0zM2045.2 561.5h2.6v2.0h-2.6zM2038.5 526.2h2.0v2.6h-2.0zM2045.2 491.5h2.6v2.0h-2.6zM2065.3 461.5h2.0v2.6h-2.0zM2094.7 442.0h2.6v2.0h-2.6zM2130.0 404.5h2.0v2.6h-2.0zM2161.2 409.0h2.6v2.0h-2.6zM2190.8 420.8h2.0v2.6h-2.0zM2215.8 440.4h2.6v2.0h-2.6zM2235.4 465.4h2.0v2.6h-2.0zM2247.2 495.0h2.6v2.0h-2.6zM2251.7 526.2h2.0v2.6h-2.0zM2247.2 558.0h2.6v2.0h-2.6zM2235.4 587.0h2.0v2.6h-2.0zM2215.8 612.6h2.6v2.0h-2.6zM2190.8 631.6h2.0v2.6h-2.0zM2161.2 644.0h2.6v2.0h-2.6zM2130.0 647.9h2.0v2.6h-2.0zM2098.2 644.0h2.6v2.0h-2.6zM2069.2 631.6h2.0v2.6h-2.0zM2043.6 612.6h2.6v2.0h-2.6zM2024.6 587.0h2.0v2.6h-2.0zM2012.2 558.0h2.6v2.0h-2.6zM2008.3 526.2h2.0v2.6h-2.0zM2012.2 495.0h2.6v2.0h-2.6zM2024.6 465.4h2.0v2.6h-2.0zM2043.6 440.4h2.6v2.0h-2.6zM2069.2 420.8h2.0v2.6h-2.0zM2098.2 409.0h2.6v2.0h-2.6zM2130.0 373.4h2.0v2.6h-2.0zM2159.5 376.6h2.6v2.0h-2.6zM2188.5 385.0h2.0v2.6h-2.0zM2214.6 399.4h2.6v2.0h-2.6zM2238.0 418.2h2.0v2.6h-2.0zM2256.8 441.6h2.6v2.0h-2.6zM2271.2 467.7h2.0v2.6h-2.0zM2279.6 496.7h2.6v2.0h-2.6zM2282.8 526.2h2.0v2.6h-2.0zM2279.6 556.3h2.6v2.0h-2.6zM2271.2 584.7h2.0v2.6h-2.0zM2256.8 611.4h2.6v2.0h-2.6zM2238.0 634.2h2.0v2.6h-2.0zM2214.6 653.6h2.6v2.0h-2.6zM2188.5 667.4h2.0v2.6h-2.0zM2159.5 676.4h2.6v2.0h-2.6zM2130.0 679.0h2.0v2.6h-2.0zM2099.9 676.4h2.6v2.0h-2.6zM2071.5 667.4h2.0v2.6h-2.0zM2044.8 653.6h2.6v2.0h-2.6zM2022.0 634.2h2.0v2.6h-2.0zM2002.6 611.4h2.6v2.0h-2.6zM1988.8 584.7h2.0v2.6h-2.0zM1979.8 556.3h2.6v2.0h-2.6zM1977.2 526.2h2.0v2.6h-2.0zM1979.8 496.7h2.6v2.0h-2.6zM1988.8 467.7h2.0v2.6h-2.0zM2002.6 441.6h2.6v2.0h-2.6zM2022.0 418.2h2.0v2.6h-2.0zM2044.8 399.4h2.6v2.0h-2.6zM2071.5 385.0h2.0v2.6h-2.0zM2099.9 376.6h2.6v2.0h-2.6z" fill="#000"/><polyline points="2179.0,347.0 2192.5,388.9 2201.5,439.8 2206.0,487.8 2204.5,529.7 2197.0,574.6 2186.5,613.6 2171.6,649.5 2152.1,688.5 2129.6,709.5" fill="none" stroke="#FF0000" stroke-width="6.5" stroke-dasharray="12 7.5" stroke-linecap="round"/></g><polygon points="2314.2,527.5 2308.0,574.9 2289.7,619.1 2260.5,657.0 2222.6,686.2 2178.4,704.5 2131.0,710.7 2083.6,704.5 2039.4,686.2 2001.5,657.0 1972.3,619.1 1954.0,574.9 1947.8,527.5 1954.0,480.1 1972.3,435.9 2001.5,398.0 2039.4,368.8 2083.6,350.5 2131.0,344.3 2178.4,350.5 2222.6,368.8 2260.5,398.0 2289.7,435.9 2308.0,480.1" fill="none" stroke="#000" stroke-width="1.8" stroke-dasharray="4.5 7"/>
<text x="1935.7" y="511.7" font-size="42.0" font-weight="bold" textLength="100.4" lengthAdjust="spacingAndGlyphs">-1114</text>
<text x="2068.1" y="511.7" font-size="41.8" font-weight="bold" textLength="112.4" lengthAdjust="spacingAndGlyphs">-371.3</text>
<text x="1877.9" y="600.1" font-size="42.0" font-weight="bold" textLength="101.1" lengthAdjust="spacingAndGlyphs">-1485</text>
<text x="2020.2" y="600.1" font-size="42.1" font-weight="bold" textLength="113.7" lengthAdjust="spacingAndGlyphs">-742.6</text>
<text x="2153.3" y="600.1" font-size="42.0" font-weight="bold" textLength="78.4" lengthAdjust="spacingAndGlyphs">0.00</text>
<text x="2256.8" y="600.1" font-size="42.1" font-weight="bold" textLength="97.5" lengthAdjust="spacingAndGlyphs">371.3</text>
<text x="2075.7" y="772.4" font-size="40.9" textLength="103.0" lengthAdjust="spacingAndGlyphs">97kN</text>
<g clip-path="url(#kB75)"><rect x="119.2" y="1262.5" width="370.0" height="370.0" fill="#FF0080"/><polygon points="41.2,1493.4 91.8,1493.4 123.0,1468.3 172.6,1428.4 233.0,1384.9 305.7,1363.0 342.0,1365.5 414.5,1394.5 465.4,1428.4 467.8,1446.5 484.7,1459.9 516.0,1484.8 567.2,1484.8 567.2,1710.5 41.2,1710.5" fill="#FF8000"/><polygon points="41.2,1509.2 90.8,1509.2 126.6,1491.3 184.7,1462.3 254.9,1430.8 305.7,1423.6 366.2,1430.8 426.6,1452.6 482.3,1482.8 517.5,1501.9 567.2,1501.9 567.2,1710.5 41.2,1710.5" fill="#FFFF00"/><polygon points="41.2,1534.0 99.7,1534.0 136.3,1517.9 196.8,1491.3 269.4,1472.0 305.7,1468.3 366.2,1474.4 426.6,1491.3 476.2,1508.2 514.1,1521.1 567.2,1521.1 567.2,1710.5 41.2,1710.5" fill="#00FF00"/><polygon points="41.2,1585.1 134.3,1585.1 172.6,1573.6 245.2,1551.8 305.7,1542.1 366.2,1544.5 438.7,1566.3 477.0,1577.8 567.2,1577.8 567.2,1710.5 41.2,1710.5" fill="#00FF40"/><polygon points="41.2,1615.7 173.1,1615.7 211.3,1603.8 269.4,1585.7 305.7,1582.0 342.0,1583.3 400.0,1597.8 438.8,1607.5 567.2,1607.5 567.2,1710.5 41.2,1710.5" fill="#00FFA0"/><polygon points="41.2,1645.3 225.9,1645.3 262.0,1628.0 267.0,1625.6 305.7,1613.5 342.0,1624.4 347.0,1627.0 382.5,1645.5 567.2,1645.5 567.2,1710.5 41.2,1710.5" fill="#00FFFF"/><polygon points="144.8,1357.0 179.8,1324.4 218.6,1296.5 245.2,1278.4 260.0,1270.0 260.0,1240.0 100.0,1240.0 100.0,1357.0" fill="#FF0000"/><polygon points="372.0,1276.0 390.3,1290.0 433.9,1322.0 447.0,1338.0 520.0,1338.0 520.0,1240.0 372.0,1240.0" fill="#FF0000"/><g fill="none" stroke="#000" stroke-width="1.3" stroke-dasharray="1.6 4.4"><polyline points="123.0,1468.3 172.6,1428.4 233.0,1384.9 305.7,1363.0 342.0,1365.5 414.5,1394.5 465.4,1428.4 467.8,1446.5 484.7,1459.9"/><polyline points="126.6,1491.3 184.7,1462.3 254.9,1430.8 305.7,1423.6 366.2,1430.8 426.6,1452.6 482.3,1482.8"/><polyline points="136.3,1517.9 196.8,1491.3 269.4,1472.0 305.7,1468.3 366.2,1474.4 426.6,1491.3 476.2,1508.2"/><polyline points="150.8,1542.1 221.0,1520.3 305.7,1503.4 390.3,1513.1 462.9,1533.7"/><polyline points="172.6,1573.6 245.2,1551.8 305.7,1542.1 366.2,1544.5 438.7,1566.3"/><polyline points="211.3,1603.8 269.4,1585.7 305.7,1582.0 342.0,1583.3 400.0,1597.8"/><polyline points="262.0,1628.0 267.0,1625.6 305.7,1613.5 342.0,1624.4 347.0,1627.0"/></g><path d="M272.4 1416.0h2.6v2.0h-2.6zM272.7 1446.2h2.0v2.6h-2.0zM272.4 1477.0h2.6v2.0h-2.6zM303.2 1415.7h2.0v2.6h-2.0zM302.9 1446.5h2.6v2.0h-2.6zM303.2 1476.7h2.0v2.6h-2.0zM333.4 1416.0h2.6v2.0h-2.6zM333.7 1446.2h2.0v2.6h-2.0zM333.4 1477.0h2.6v2.0h-2.6zM303.2 1384.0h2.0v2.6h-2.0zM334.0 1392.6h2.6v2.0h-2.6zM357.1 1415.1h2.0v2.6h-2.0zM365.1 1446.5h2.6v2.0h-2.6zM357.1 1477.3h2.0v2.6h-2.0zM334.0 1500.4h2.6v2.0h-2.6zM303.2 1508.4h2.0v2.6h-2.0zM271.8 1500.4h2.6v2.0h-2.6zM249.3 1477.3h2.0v2.6h-2.0zM240.7 1446.5h2.6v2.0h-2.6zM249.3 1415.1h2.0v2.6h-2.0zM271.8 1392.6h2.6v2.0h-2.6zM303.2 1354.7h2.0v2.6h-2.0zM337.9 1362.0h2.6v2.0h-2.6zM367.9 1381.5h2.0v2.6h-2.0zM387.4 1411.5h2.6v2.0h-2.6zM394.7 1446.2h2.0v2.6h-2.0zM387.4 1481.5h2.6v2.0h-2.6zM367.9 1510.9h2.0v2.6h-2.0zM337.9 1531.0h2.6v2.0h-2.6zM303.2 1537.7h2.0v2.6h-2.0zM267.9 1531.0h2.6v2.0h-2.6zM238.5 1510.9h2.0v2.6h-2.0zM218.4 1481.5h2.6v2.0h-2.6zM211.7 1446.2h2.0v2.6h-2.0zM218.4 1411.5h2.6v2.0h-2.6zM238.5 1381.5h2.0v2.6h-2.0zM267.9 1362.0h2.6v2.0h-2.6zM303.2 1324.5h2.0v2.6h-2.0zM334.4 1329.0h2.6v2.0h-2.6zM364.0 1340.8h2.0v2.6h-2.0zM389.0 1360.4h2.6v2.0h-2.6zM408.6 1385.4h2.0v2.6h-2.0zM420.4 1415.0h2.6v2.0h-2.6zM424.9 1446.2h2.0v2.6h-2.0zM420.4 1478.0h2.6v2.0h-2.6zM408.6 1507.0h2.0v2.6h-2.0zM389.0 1532.6h2.6v2.0h-2.6zM364.0 1551.6h2.0v2.6h-2.0zM334.4 1564.0h2.6v2.0h-2.6zM303.2 1567.9h2.0v2.6h-2.0zM271.4 1564.0h2.6v2.0h-2.6zM242.4 1551.6h2.0v2.6h-2.0zM216.8 1532.6h2.6v2.0h-2.6zM197.8 1507.0h2.0v2.6h-2.0zM185.4 1478.0h2.6v2.0h-2.6zM181.5 1446.2h2.0v2.6h-2.0zM185.4 1415.0h2.6v2.0h-2.6zM197.8 1385.4h2.0v2.6h-2.0zM216.8 1360.4h2.6v2.0h-2.6zM242.4 1340.8h2.0v2.6h-2.0zM271.4 1329.0h2.6v2.0h-2.6zM303.2 1293.4h2.0v2.6h-2.0zM332.7 1296.6h2.6v2.0h-2.6zM361.7 1305.0h2.0v2.6h-2.0zM387.8 1319.4h2.6v2.0h-2.6zM411.2 1338.2h2.0v2.6h-2.0zM430.0 1361.6h2.6v2.0h-2.6zM444.4 1387.7h2.0v2.6h-2.0zM452.8 1416.7h2.6v2.0h-2.6zM456.0 1446.2h2.0v2.6h-2.0zM452.8 1476.3h2.6v2.0h-2.6zM444.4 1504.7h2.0v2.6h-2.0zM430.0 1531.4h2.6v2.0h-2.6zM411.2 1554.2h2.0v2.6h-2.0zM387.8 1573.6h2.6v2.0h-2.6zM361.7 1587.4h2.0v2.6h-2.0zM332.7 1596.4h2.6v2.0h-2.6zM303.2 1599.0h2.0v2.6h-2.0zM273.1 1596.4h2.6v2.0h-2.6zM244.7 1587.4h2.0v2.6h-2.0zM218.0 1573.6h2.6v2.0h-2.6zM195.2 1554.2h2.0v2.6h-2.0zM175.8 1531.4h2.6v2.0h-2.6zM162.0 1504.7h2.0v2.6h-2.0zM153.0 1476.3h2.6v2.0h-2.6zM150.4 1446.2h2.0v2.6h-2.0zM153.0 1416.7h2.6v2.0h-2.6zM162.0 1387.7h2.0v2.6h-2.0zM175.8 1361.6h2.6v2.0h-2.6zM195.2 1338.2h2.0v2.6h-2.0zM218.0 1319.4h2.6v2.0h-2.6zM244.7 1305.0h2.0v2.6h-2.0zM273.1 1296.6h2.6v2.0h-2.6z" fill="#000"/></g><polygon points="487.4,1447.5 481.2,1494.9 462.9,1539.1 433.7,1577.0 395.8,1606.2 351.6,1624.5 304.2,1630.7 256.8,1624.5 212.6,1606.2 174.7,1577.0 145.5,1539.1 127.2,1494.9 121.0,1447.5 127.2,1400.1 145.5,1355.9 174.7,1318.0 212.6,1288.8 256.8,1270.5 304.2,1264.3 351.6,1270.5 395.8,1288.8 433.7,1318.0 462.9,1355.9 481.2,1400.1" fill="none" stroke="#000" stroke-width="1.8" stroke-dasharray="4.5 7"/>
<text x="169.7" y="1293.0" font-size="43.3" font-weight="bold" textLength="98.9" lengthAdjust="spacingAndGlyphs">0.000</text>
<text x="368.1" y="1309.8" font-size="43.0" font-weight="bold" textLength="98.9" lengthAdjust="spacingAndGlyphs">0.000</text>
<text x="244.8" y="1436.9" font-size="45.0" font-weight="bold" textLength="113.4" lengthAdjust="spacingAndGlyphs">-8.320</text>
<text x="244.8" y="1514.3" font-size="43.2" font-weight="bold">-16.64</text>
<text x="244.8" y="1593.0" font-size="45.2" font-weight="bold" textLength="113.0" lengthAdjust="spacingAndGlyphs">-24.96</text>
<text x="249.3" y="1693.3" font-size="43.7" textLength="103.3" lengthAdjust="spacingAndGlyphs">75kN</text>
<g clip-path="url(#kB85)"><rect x="570.3" y="1141.2" width="370.0" height="370.0" fill="#FF0080"/><polygon points="492.3,1365.8 542.2,1365.8 573.8,1341.2 594.6,1325.0 596.9,1311.2 652.2,1269.8 725.9,1230.6 755.9,1226.0 790.4,1228.3 836.5,1249.0 882.6,1272.1 901.0,1290.5 921.8,1302.0 926.4,1327.4 937.9,1336.6 969.1,1361.6 1018.3,1361.6 1018.3,1589.2 492.3,1589.2" fill="#FF8000"/><polygon points="492.3,1377.5 542.3,1377.5 576.1,1356.2 629.1,1322.8 698.2,1288.2 755.9,1276.7 813.5,1283.6 882.6,1308.9 935.6,1350.4 967.1,1375.1 1018.3,1375.1 1018.3,1589.2 492.3,1589.2" fill="#FFFF00"/><polygon points="492.3,1390.7 543.5,1390.7 579.6,1373.5 652.2,1338.9 721.3,1315.9 755.9,1311.2 813.5,1315.9 882.6,1338.9 933.3,1366.5 968.4,1385.6 1018.3,1385.6 1018.3,1589.2 492.3,1589.2" fill="#00FF00"/><polygon points="492.3,1426.6 559.0,1426.6 596.9,1413.8 675.2,1387.3 755.9,1373.5 836.5,1380.4 917.1,1406.9 955.1,1419.4 1018.3,1419.4 1018.3,1589.2 492.3,1589.2" fill="#00FF40"/><polygon points="492.3,1448.5 574.4,1448.5 613.0,1438.0 698.2,1414.9 755.9,1411.5 813.5,1414.9 903.3,1431.0 942.7,1438.1 1018.3,1438.1 1018.3,1589.2 492.3,1589.2" fill="#00FFA0"/><polygon points="492.3,1471.6 599.7,1471.6 638.3,1461.0 700.0,1444.0 755.9,1439.1 810.0,1443.0 882.6,1456.4 921.9,1463.7 1018.3,1463.7 1018.3,1589.2 492.3,1589.2" fill="#00FFFF"/><polygon points="492.3,1525.4 680.0,1525.4 715.0,1506.0 721.3,1502.5 755.9,1493.3 790.4,1502.5 796.0,1506.0 829.9,1527.2 1018.3,1527.2 1018.3,1589.2 492.3,1589.2" fill="#00A0FF"/><polygon points="594.1,1238.5 626.9,1207.9 648.8,1218.8 666.3,1207.9 675.1,1190.4 675.1,1170.6 710.1,1149.9 720.0,1140.0 720.0,1100.0 560.0,1100.0 560.0,1238.5" fill="#FF0000"/><polygon points="802.0,1149.9 841.5,1168.5 854.6,1181.6 885.2,1199.1 911.5,1231.9 960.0,1231.9 960.0,1100.0 802.0,1100.0" fill="#FF0000"/><g fill="none" stroke="#000" stroke-width="1.3" stroke-dasharray="1.6 4.4"><polyline points="573.8,1341.2 594.6,1325.0 596.9,1311.2 652.2,1269.8 725.9,1230.6 755.9,1226.0 790.4,1228.3 836.5,1249.0 882.6,1272.1 901.0,1290.5 921.8,1302.0 926.4,1327.4 937.9,1336.6"/><polyline points="576.1,1356.2 629.1,1322.8 698.2,1288.2 755.9,1276.7 813.5,1283.6 882.6,1308.9 935.6,1350.4"/><polyline points="579.6,1373.5 652.2,1338.9 721.3,1315.9 755.9,1311.2 813.5,1315.9 882.6,1338.9 933.3,1366.5"/><polyline points="592.3,1394.2 675.2,1364.2 755.9,1350.4 836.5,1359.6 924.1,1385.0"/><polyline points="596.9,1413.8 675.2,1387.3 755.9,1373.5 836.5,1380.4 917.1,1406.9"/><polyline points="613.0,1438.0 698.2,1414.9 755.9,1411.5 813.5,1414.9 903.3,1431.0"/><polyline points="638.3,1461.0 700.0,1444.0 755.9,1439.1 810.0,1443.0 882.6,1456.4"/><polyline points="663.7,1484.0 755.9,1470.2 848.0,1481.8"/><polyline points="715.0,1506.0 721.3,1502.5 755.9,1493.3 790.4,1502.5 796.0,1506.0"/></g><path d="M723.5 1294.7h2.6v2.0h-2.6zM723.8 1324.9h2.0v2.6h-2.0zM723.5 1355.7h2.6v2.0h-2.6zM754.3 1294.4h2.0v2.6h-2.0zM754.0 1325.2h2.6v2.0h-2.6zM754.3 1355.4h2.0v2.6h-2.0zM784.5 1294.7h2.6v2.0h-2.6zM784.8 1324.9h2.0v2.6h-2.0zM784.5 1355.7h2.6v2.0h-2.6zM754.3 1262.7h2.0v2.6h-2.0zM785.1 1271.3h2.6v2.0h-2.6zM808.2 1293.8h2.0v2.6h-2.0zM816.2 1325.2h2.6v2.0h-2.6zM808.2 1356.0h2.0v2.6h-2.0zM785.1 1379.1h2.6v2.0h-2.6zM754.3 1387.1h2.0v2.6h-2.0zM722.9 1379.1h2.6v2.0h-2.6zM700.4 1356.0h2.0v2.6h-2.0zM691.8 1325.2h2.6v2.0h-2.6zM700.4 1293.8h2.0v2.6h-2.0zM722.9 1271.3h2.6v2.0h-2.6zM754.3 1233.4h2.0v2.6h-2.0zM789.0 1240.7h2.6v2.0h-2.6zM819.0 1260.2h2.0v2.6h-2.0zM838.5 1290.2h2.6v2.0h-2.6zM845.8 1324.9h2.0v2.6h-2.0zM838.5 1360.2h2.6v2.0h-2.6zM819.0 1389.6h2.0v2.6h-2.0zM789.0 1409.7h2.6v2.0h-2.6zM754.3 1416.4h2.0v2.6h-2.0zM719.0 1409.7h2.6v2.0h-2.6zM689.6 1389.6h2.0v2.6h-2.0zM669.5 1360.2h2.6v2.0h-2.6zM662.8 1324.9h2.0v2.6h-2.0zM669.5 1290.2h2.6v2.0h-2.6zM689.6 1260.2h2.0v2.6h-2.0zM719.0 1240.7h2.6v2.0h-2.6zM754.3 1203.2h2.0v2.6h-2.0zM785.5 1207.7h2.6v2.0h-2.6zM815.1 1219.5h2.0v2.6h-2.0zM840.1 1239.1h2.6v2.0h-2.6zM859.7 1264.1h2.0v2.6h-2.0zM871.5 1293.7h2.6v2.0h-2.6zM876.0 1324.9h2.0v2.6h-2.0zM871.5 1356.7h2.6v2.0h-2.6zM859.7 1385.7h2.0v2.6h-2.0zM840.1 1411.3h2.6v2.0h-2.6zM815.1 1430.3h2.0v2.6h-2.0zM785.5 1442.7h2.6v2.0h-2.6zM754.3 1446.6h2.0v2.6h-2.0zM722.5 1442.7h2.6v2.0h-2.6zM693.5 1430.3h2.0v2.6h-2.0zM667.9 1411.3h2.6v2.0h-2.6zM648.9 1385.7h2.0v2.6h-2.0zM636.5 1356.7h2.6v2.0h-2.6zM632.6 1324.9h2.0v2.6h-2.0zM636.5 1293.7h2.6v2.0h-2.6zM648.9 1264.1h2.0v2.6h-2.0zM667.9 1239.1h2.6v2.0h-2.6zM693.5 1219.5h2.0v2.6h-2.0zM722.5 1207.7h2.6v2.0h-2.6zM754.3 1172.1h2.0v2.6h-2.0zM783.8 1175.3h2.6v2.0h-2.6zM812.8 1183.7h2.0v2.6h-2.0zM838.9 1198.1h2.6v2.0h-2.6zM862.3 1216.9h2.0v2.6h-2.0zM881.1 1240.3h2.6v2.0h-2.6zM895.5 1266.4h2.0v2.6h-2.0zM903.9 1295.4h2.6v2.0h-2.6zM907.1 1324.9h2.0v2.6h-2.0zM903.9 1355.0h2.6v2.0h-2.6zM895.5 1383.4h2.0v2.6h-2.0zM881.1 1410.1h2.6v2.0h-2.6zM862.3 1432.9h2.0v2.6h-2.0zM838.9 1452.3h2.6v2.0h-2.6zM812.8 1466.1h2.0v2.6h-2.0zM783.8 1475.1h2.6v2.0h-2.6zM754.3 1477.7h2.0v2.6h-2.0zM724.2 1475.1h2.6v2.0h-2.6zM695.8 1466.1h2.0v2.6h-2.0zM669.1 1452.3h2.6v2.0h-2.6zM646.3 1432.9h2.0v2.6h-2.0zM626.9 1410.1h2.6v2.0h-2.6zM613.1 1383.4h2.0v2.6h-2.0zM604.1 1355.0h2.6v2.0h-2.6zM601.5 1324.9h2.0v2.6h-2.0zM604.1 1295.4h2.6v2.0h-2.6zM613.1 1266.4h2.0v2.6h-2.0zM626.9 1240.3h2.6v2.0h-2.6zM646.3 1216.9h2.0v2.6h-2.0zM669.1 1198.1h2.6v2.0h-2.6zM695.8 1183.7h2.0v2.6h-2.0zM724.2 1175.3h2.6v2.0h-2.6z" fill="#000"/></g><polygon points="938.5,1326.2 932.3,1373.6 914.0,1417.8 884.8,1455.7 846.9,1484.9 802.7,1503.2 755.3,1509.4 707.9,1503.2 663.7,1484.9 625.8,1455.7 596.6,1417.8 578.3,1373.6 572.1,1326.2 578.3,1278.8 596.6,1234.6 625.8,1196.7 663.7,1167.5 707.9,1149.2 755.3,1143.0 802.7,1149.2 846.9,1167.5 884.8,1196.7 914.0,1234.6 932.3,1278.8" fill="none" stroke="#000" stroke-width="1.8" stroke-dasharray="4.5 7"/>
<text x="610.8" y="1205.3" font-size="42.9" font-weight="bold" textLength="98.3" lengthAdjust="spacingAndGlyphs">0.000</text>
<text x="829.0" y="1205.3" font-size="42.9" font-weight="bold" textLength="99.1" lengthAdjust="spacingAndGlyphs">0.000</text>
<text x="699.0" y="1291.7" font-size="42.9" font-weight="bold" textLength="112.7" lengthAdjust="spacingAndGlyphs">-8.320</text>
<text x="699.0" y="1359.6" font-size="42.9" font-weight="bold">-16.64</text>
<text x="699.0" y="1410.3" font-size="42.9" font-weight="bold">-24.96</text>
<text x="700.1" y="1478.3" font-size="42.9" font-weight="bold">-33.28</text>
<text x="711.5" y="1570.5" font-size="39.9" textLength="101.9" lengthAdjust="spacingAndGlyphs">85kN</text>
<g clip-path="url(#kB90)"><rect x="1022.8" y="1055.4" width="370.0" height="370.0" fill="#FF0000"/><polygon points="1263.8,977.4 1263.8,1038.7 1286.0,1072.0 1290.0,1078.0 1300.0,1085.5 1316.0,1097.5 1332.0,1112.2 1322.8,1126.0 1321.2,1130.0 1335.5,1162.2 1345.8,1190.7 1356.2,1232.2 1353.6,1255.5 1343.2,1286.6 1325.1,1325.5 1299.2,1351.4 1282.3,1369.6 1291.4,1398.1 1288.0,1416.0 1280.5,1455.3 1280.5,1503.4 944.8,1503.4 944.8,977.4" fill="#FF0080"/><polygon points="1172.8,977.4 1172.8,1031.3 1205.0,1055.0 1209.9,1058.6 1242.2,1070.7 1244.5,1075.3 1262.9,1107.8 1281.0,1154.4 1291.4,1198.5 1291.4,1237.4 1288.8,1276.2 1275.9,1315.1 1255.1,1354.0 1229.2,1387.7 1224.0,1392.9 1221.4,1400.7 1208.5,1402.0 1195.5,1421.4 1173.2,1454.6 1173.2,1503.4 944.8,1503.4 944.8,977.4" fill="#FF8000"/><polygon points="1165.4,977.4 1165.4,1030.7 1192.9,1059.8 1213.7,1081.8 1237.0,1133.7 1251.2,1180.3 1255.1,1224.4 1253.8,1258.1 1243.5,1297.0 1226.6,1341.0 1203.3,1369.6 1180.0,1418.8 1162.9,1455.0 1162.9,1503.4 944.8,1503.4 944.8,977.4" fill="#FFFF00"/><polygon points="1158.5,977.4 1158.5,1027.2 1177.4,1062.4 1205.9,1115.5 1218.8,1159.6 1224.0,1211.4 1222.7,1263.3 1213.7,1302.2 1198.1,1341.0 1177.4,1379.9 1164.4,1416.2 1150.9,1453.9 1150.9,1503.4 944.8,1503.4 944.8,977.4" fill="#00FF00"/><polygon points="1130.6,977.4 1130.6,1034.1 1138.5,1073.3 1145.7,1109.2 1158.2,1143.4 1163.6,1166.7 1167.2,1211.6 1167.2,1247.5 1161.8,1283.4 1152.9,1319.3 1142.1,1355.2 1125.9,1401.9 1112.8,1439.7 1112.8,1503.4 944.8,1503.4 944.8,977.4" fill="#00FF40"/><polygon points="1108.9,977.4 1108.9,1043.1 1117.0,1082.3 1125.9,1125.4 1134.0,1184.6 1135.8,1238.5 1134.9,1256.5 1128.6,1297.8 1118.7,1337.3 1102.6,1382.1 1089.1,1419.7 1089.1,1503.4 944.8,1503.4 944.8,977.4" fill="#00FFA0"/><polygon points="1085.2,977.4 1085.2,1064.4 1091.8,1103.9 1097.2,1136.2 1106.2,1190.0 1107.1,1229.5 1104.4,1265.4 1097.2,1301.3 1081.0,1366.0 1071.3,1404.8 1071.3,1503.4 944.8,1503.4 944.8,977.4" fill="#00FFFF"/><polygon points="1025.4,977.4 1025.4,1133.4 1036.0,1172.0 1038.0,1179.3 1046.9,1229.5 1045.1,1256.5 1036.2,1288.8 1034.0,1296.0 1022.3,1334.3 1022.3,1503.4 944.8,1503.4 944.8,977.4" fill="#00A0FF"/><g fill="none" stroke="#000" stroke-width="1.3" stroke-dasharray="1.6 4.4"><polyline points="1286.0,1072.0 1290.0,1078.0 1300.0,1085.5 1316.0,1097.5 1332.0,1112.2 1322.8,1126.0 1321.2,1130.0 1335.5,1162.2 1345.8,1190.7 1356.2,1232.2 1353.6,1255.5 1343.2,1286.6 1325.1,1325.5 1299.2,1351.4 1282.3,1369.6 1291.4,1398.1 1288.0,1416.0"/><polyline points="1205.0,1055.0 1209.9,1058.6 1242.2,1070.7 1244.5,1075.3 1262.9,1107.8 1281.0,1154.4 1291.4,1198.5 1291.4,1237.4 1288.8,1276.2 1275.9,1315.1 1255.1,1354.0 1229.2,1387.7 1224.0,1392.9 1221.4,1400.7 1208.5,1402.0 1195.5,1421.4"/><polyline points="1192.9,1059.8 1213.7,1081.8 1237.0,1133.7 1251.2,1180.3 1255.1,1224.4 1253.8,1258.1 1243.5,1297.0 1226.6,1341.0 1203.3,1369.6 1180.0,1418.8"/><polyline points="1177.4,1062.4 1205.9,1115.5 1218.8,1159.6 1224.0,1211.4 1222.7,1263.3 1213.7,1302.2 1198.1,1341.0 1177.4,1379.9 1164.4,1416.2"/><polyline points="1161.8,1064.4 1169.0,1094.9 1179.8,1125.4 1191.5,1166.7 1195.0,1229.5 1192.4,1274.4 1181.6,1319.3 1163.6,1391.1"/><polyline points="1138.5,1073.3 1145.7,1109.2 1158.2,1143.4 1163.6,1166.7 1167.2,1211.6 1167.2,1247.5 1161.8,1283.4 1152.9,1319.3 1142.1,1355.2 1125.9,1401.9"/><polyline points="1117.0,1082.3 1125.9,1125.4 1134.0,1184.6 1135.8,1238.5 1134.9,1256.5 1128.6,1297.8 1118.7,1337.3 1102.6,1382.1"/><polyline points="1091.8,1103.9 1097.2,1136.2 1106.2,1190.0 1107.1,1229.5 1104.4,1265.4 1097.2,1301.3 1081.0,1366.0"/><polyline points="1064.9,1134.4 1075.7,1186.4 1077.5,1252.9 1072.0,1296.0 1055.9,1340.8"/><polyline points="1036.0,1172.0 1038.0,1179.3 1046.9,1229.5 1045.1,1256.5 1036.2,1288.8 1034.0,1296.0"/></g><path d="M1176.0 1208.9h2.6v2.0h-2.6zM1176.3 1239.1h2.0v2.6h-2.0zM1176.0 1269.9h2.6v2.0h-2.6zM1206.8 1208.6h2.0v2.6h-2.0zM1206.5 1239.4h2.6v2.0h-2.6zM1206.8 1269.6h2.0v2.6h-2.0zM1237.0 1208.9h2.6v2.0h-2.6zM1237.3 1239.1h2.0v2.6h-2.0zM1237.0 1269.9h2.6v2.0h-2.6zM1206.8 1176.9h2.0v2.6h-2.0zM1237.6 1185.5h2.6v2.0h-2.6zM1260.7 1208.0h2.0v2.6h-2.0zM1268.7 1239.4h2.6v2.0h-2.6zM1260.7 1270.2h2.0v2.6h-2.0zM1237.6 1293.3h2.6v2.0h-2.6zM1206.8 1301.3h2.0v2.6h-2.0zM1175.4 1293.3h2.6v2.0h-2.6zM1152.9 1270.2h2.0v2.6h-2.0zM1144.3 1239.4h2.6v2.0h-2.6zM1152.9 1208.0h2.0v2.6h-2.0zM1175.4 1185.5h2.6v2.0h-2.6zM1206.8 1147.6h2.0v2.6h-2.0zM1241.5 1154.9h2.6v2.0h-2.6zM1271.5 1174.4h2.0v2.6h-2.0zM1291.0 1204.4h2.6v2.0h-2.6zM1298.3 1239.1h2.0v2.6h-2.0zM1291.0 1274.4h2.6v2.0h-2.6zM1271.5 1303.8h2.0v2.6h-2.0zM1241.5 1323.9h2.6v2.0h-2.6zM1206.8 1330.6h2.0v2.6h-2.0zM1171.5 1323.9h2.6v2.0h-2.6zM1142.1 1303.8h2.0v2.6h-2.0zM1122.0 1274.4h2.6v2.0h-2.6zM1115.3 1239.1h2.0v2.6h-2.0zM1122.0 1204.4h2.6v2.0h-2.6zM1142.1 1174.4h2.0v2.6h-2.0zM1171.5 1154.9h2.6v2.0h-2.6zM1206.8 1117.4h2.0v2.6h-2.0zM1238.0 1121.9h2.6v2.0h-2.6zM1267.6 1133.7h2.0v2.6h-2.0zM1292.6 1153.3h2.6v2.0h-2.6zM1312.2 1178.3h2.0v2.6h-2.0zM1324.0 1207.9h2.6v2.0h-2.6zM1328.5 1239.1h2.0v2.6h-2.0zM1324.0 1270.9h2.6v2.0h-2.6zM1312.2 1299.9h2.0v2.6h-2.0zM1292.6 1325.5h2.6v2.0h-2.6zM1267.6 1344.5h2.0v2.6h-2.0zM1238.0 1356.9h2.6v2.0h-2.6zM1206.8 1360.8h2.0v2.6h-2.0zM1175.0 1356.9h2.6v2.0h-2.6zM1146.0 1344.5h2.0v2.6h-2.0zM1120.4 1325.5h2.6v2.0h-2.6zM1101.4 1299.9h2.0v2.6h-2.0zM1089.0 1270.9h2.6v2.0h-2.6zM1085.1 1239.1h2.0v2.6h-2.0zM1089.0 1207.9h2.6v2.0h-2.6zM1101.4 1178.3h2.0v2.6h-2.0zM1120.4 1153.3h2.6v2.0h-2.6zM1146.0 1133.7h2.0v2.6h-2.0zM1175.0 1121.9h2.6v2.0h-2.6zM1206.8 1086.3h2.0v2.6h-2.0zM1236.3 1089.5h2.6v2.0h-2.6zM1265.3 1097.9h2.0v2.6h-2.0zM1291.4 1112.3h2.6v2.0h-2.6zM1314.8 1131.1h2.0v2.6h-2.0zM1333.6 1154.5h2.6v2.0h-2.6zM1348.0 1180.6h2.0v2.6h-2.0zM1356.4 1209.6h2.6v2.0h-2.6zM1359.6 1239.1h2.0v2.6h-2.0zM1356.4 1269.2h2.6v2.0h-2.6zM1348.0 1297.6h2.0v2.6h-2.0zM1333.6 1324.3h2.6v2.0h-2.6zM1314.8 1347.1h2.0v2.6h-2.0zM1291.4 1366.5h2.6v2.0h-2.6zM1265.3 1380.3h2.0v2.6h-2.0zM1236.3 1389.3h2.6v2.0h-2.6zM1206.8 1391.9h2.0v2.6h-2.0zM1176.7 1389.3h2.6v2.0h-2.6zM1148.3 1380.3h2.0v2.6h-2.0zM1121.6 1366.5h2.6v2.0h-2.6zM1098.8 1347.1h2.0v2.6h-2.0zM1079.4 1324.3h2.6v2.0h-2.6zM1065.6 1297.6h2.0v2.6h-2.0zM1056.6 1269.2h2.6v2.0h-2.6zM1054.0 1239.1h2.0v2.6h-2.0zM1056.6 1209.6h2.6v2.0h-2.6zM1065.6 1180.6h2.0v2.6h-2.0zM1079.4 1154.5h2.6v2.0h-2.6zM1098.8 1131.1h2.0v2.6h-2.0zM1121.6 1112.3h2.6v2.0h-2.6zM1148.3 1097.9h2.0v2.6h-2.0zM1176.7 1089.5h2.6v2.0h-2.6z" fill="#000"/></g><polygon points="1391.0,1240.4 1384.8,1287.8 1366.5,1332.0 1337.3,1369.9 1299.4,1399.1 1255.2,1417.4 1207.8,1423.6 1160.4,1417.4 1116.2,1399.1 1078.3,1369.9 1049.1,1332.0 1030.8,1287.8 1024.6,1240.4 1030.8,1193.0 1049.1,1148.8 1078.3,1110.9 1116.2,1081.7 1160.4,1063.4 1207.8,1057.2 1255.2,1063.4 1299.4,1081.7 1337.3,1110.9 1366.5,1148.8 1384.8,1193.0" fill="none" stroke="#000" stroke-width="1.8" stroke-dasharray="4.5 7"/>
<text x="982.7" y="1223.1" font-size="44.1" font-weight="bold" textLength="111.8" lengthAdjust="spacingAndGlyphs">-33.28</text>
<text x="1120.1" y="1223.1" font-size="44.3" font-weight="bold" textLength="108.6" lengthAdjust="spacingAndGlyphs">-16.64</text>
<text x="1294.9" y="1223.1" font-size="42.1" font-weight="bold" textLength="100.5" lengthAdjust="spacingAndGlyphs">0.000</text>
<text x="1061.7" y="1290.5" font-size="42.3" font-weight="bold" textLength="115.7" lengthAdjust="spacingAndGlyphs">-24.96</text>
<text x="1187.4" y="1290.5" font-size="42.1" font-weight="bold" textLength="112.1" lengthAdjust="spacingAndGlyphs">-8.320</text>
<text x="1157.7" y="1495.3" font-size="41.1" textLength="101.0" lengthAdjust="spacingAndGlyphs">90kN</text>
<g clip-path="url(#kB94)"><rect x="1477.4" y="1141.3" width="370.0" height="370.0" fill="#FF0000"/><polygon points="1723.8,1063.3 1723.8,1126.7 1746.0,1160.0 1750.0,1166.0 1758.4,1173.5 1772.0,1184.5 1785.8,1196.9 1778.6,1209.9 1778.6,1221.4 1781.5,1235.8 1791.5,1258.8 1801.0,1280.7 1811.4,1322.2 1806.2,1353.3 1795.8,1379.2 1782.9,1397.3 1759.6,1428.4 1738.8,1451.8 1745.3,1482.9 1742.0,1500.0 1734.4,1539.3 1734.4,1589.3 1399.4,1589.3 1399.4,1063.3" fill="#FF0080"/><polygon points="1646.6,1063.3 1646.6,1107.2 1668.0,1141.0 1670.6,1145.1 1697.9,1155.2 1712.3,1179.6 1725.3,1204.1 1736.8,1235.8 1742.6,1258.8 1744.0,1275.5 1747.9,1322.2 1744.0,1358.5 1731.0,1392.2 1707.7,1431.0 1684.4,1462.1 1677.9,1485.5 1666.2,1488.1 1650.7,1506.2 1624.7,1536.6 1624.7,1589.3 1399.4,1589.3 1399.4,1063.3" fill="#FF8000"/><polygon points="1625.8,1063.3 1625.8,1113.9 1649.0,1146.5 1663.4,1166.7 1670.6,1169.6 1686.4,1195.5 1700.8,1228.6 1708.0,1258.8 1712.9,1314.4 1709.0,1353.3 1694.8,1394.8 1676.6,1425.9 1653.3,1462.1 1635.1,1503.6 1619.0,1540.2 1619.0,1589.3 1399.4,1589.3 1399.4,1063.3" fill="#FFFF00"/><polygon points="1611.6,1063.3 1611.6,1113.5 1633.1,1147.2 1644.6,1165.2 1657.6,1195.5 1669.1,1221.4 1677.6,1262.4 1680.2,1297.4 1679.4,1332.4 1672.4,1376.1 1661.9,1411.1 1647.9,1446.0 1633.9,1472.3 1619.9,1502.0 1602.8,1538.2 1602.8,1589.3 1399.4,1589.3 1399.4,1063.3" fill="#00FF00"/><polygon points="1589.9,1063.3 1589.9,1118.2 1597.2,1157.5 1602.4,1185.5 1612.9,1218.7 1623.4,1253.7 1626.0,1288.7 1626.9,1323.6 1625.2,1349.9 1618.2,1384.8 1609.4,1419.8 1598.9,1454.8 1583.2,1491.5 1567.5,1528.3 1567.5,1589.3 1399.4,1589.3 1399.4,1063.3" fill="#00FF40"/><polygon points="1566.5,1063.3 1566.5,1126.4 1575.3,1165.4 1581.4,1192.5 1588.4,1236.2 1593.7,1279.9 1595.4,1314.9 1593.7,1341.1 1586.7,1384.8 1577.9,1423.3 1562.2,1475.8 1550.7,1514.1 1550.7,1589.3 1399.4,1589.3 1399.4,1063.3" fill="#00FFA0"/><polygon points="1545.7,1063.3 1545.7,1144.2 1551.7,1183.7 1557.0,1218.7 1564.0,1262.4 1566.6,1306.1 1565.7,1332.4 1560.4,1376.1 1553.5,1411.1 1537.7,1456.5 1524.6,1494.3 1524.6,1589.3 1399.4,1589.3 1399.4,1063.3" fill="#00FFFF"/><polygon points="1481.9,1063.3 1481.9,1205.2 1495.0,1243.0 1497.5,1250.2 1501.0,1271.2 1508.9,1323.6 1504.5,1349.9 1492.2,1388.3 1490.0,1395.0 1477.5,1433.0 1477.5,1589.3 1399.4,1589.3 1399.4,1063.3" fill="#00A0FF"/><g fill="none" stroke="#000" stroke-width="1.3" stroke-dasharray="1.6 4.4"><polyline points="1746.0,1160.0 1750.0,1166.0 1758.4,1173.5 1772.0,1184.5 1785.8,1196.9 1778.6,1209.9 1778.6,1221.4 1781.5,1235.8 1791.5,1258.8 1801.0,1280.7 1811.4,1322.2 1806.2,1353.3 1795.8,1379.2 1782.9,1397.3 1759.6,1428.4 1738.8,1451.8 1745.3,1482.9 1742.0,1500.0"/><polyline points="1668.0,1141.0 1670.6,1145.1 1697.9,1155.2 1712.3,1179.6 1725.3,1204.1 1736.8,1235.8 1742.6,1258.8 1744.0,1275.5 1747.9,1322.2 1744.0,1358.5 1731.0,1392.2 1707.7,1431.0 1684.4,1462.1 1677.9,1485.5 1666.2,1488.1 1650.7,1506.2"/><polyline points="1649.0,1146.5 1663.4,1166.7 1670.6,1169.6 1686.4,1195.5 1700.8,1228.6 1708.0,1258.8 1712.9,1314.4 1709.0,1353.3 1694.8,1394.8 1676.6,1425.9 1653.3,1462.1 1635.1,1503.6"/><polyline points="1633.1,1147.2 1644.6,1165.2 1657.6,1195.5 1669.1,1221.4 1677.6,1262.4 1680.2,1297.4 1679.4,1332.4 1672.4,1376.1 1661.9,1411.1 1647.9,1446.0 1633.9,1472.3 1619.9,1502.0"/><polyline points="1619.9,1150.5 1625.2,1180.2 1637.4,1206.5 1647.9,1236.2 1653.1,1279.9 1654.9,1323.6 1651.4,1358.6 1642.6,1393.6 1630.4,1428.6 1609.4,1500.3"/><polyline points="1597.2,1157.5 1602.4,1185.5 1612.9,1218.7 1623.4,1253.7 1626.0,1288.7 1626.9,1323.6 1625.2,1349.9 1618.2,1384.8 1609.4,1419.8 1598.9,1454.8 1583.2,1491.5"/><polyline points="1575.3,1165.4 1581.4,1192.5 1588.4,1236.2 1593.7,1279.9 1595.4,1314.9 1593.7,1341.1 1586.7,1384.8 1577.9,1423.3 1562.2,1475.8"/><polyline points="1551.7,1183.7 1557.0,1218.7 1564.0,1262.4 1566.6,1306.1 1565.7,1332.4 1560.4,1376.1 1553.5,1411.1 1537.7,1456.5"/><polyline points="1527.2,1210.0 1532.5,1245.0 1537.7,1279.9 1540.3,1332.4 1532.5,1384.8 1516.7,1425.0"/><polyline points="1495.0,1243.0 1497.5,1250.2 1501.0,1271.2 1508.9,1323.6 1504.5,1349.9 1492.2,1388.3 1490.0,1395.0"/></g><path d="M1630.6 1294.8h2.6v2.0h-2.6zM1630.9 1325.0h2.0v2.6h-2.0zM1630.6 1355.8h2.6v2.0h-2.6zM1661.4 1294.5h2.0v2.6h-2.0zM1661.1 1325.3h2.6v2.0h-2.6zM1661.4 1355.5h2.0v2.6h-2.0zM1691.6 1294.8h2.6v2.0h-2.6zM1691.9 1325.0h2.0v2.6h-2.0zM1691.6 1355.8h2.6v2.0h-2.6zM1661.4 1262.8h2.0v2.6h-2.0zM1692.2 1271.4h2.6v2.0h-2.6zM1715.3 1293.9h2.0v2.6h-2.0zM1723.3 1325.3h2.6v2.0h-2.6zM1715.3 1356.1h2.0v2.6h-2.0zM1692.2 1379.2h2.6v2.0h-2.6zM1661.4 1387.2h2.0v2.6h-2.0zM1630.0 1379.2h2.6v2.0h-2.6zM1607.5 1356.1h2.0v2.6h-2.0zM1598.9 1325.3h2.6v2.0h-2.6zM1607.5 1293.9h2.0v2.6h-2.0zM1630.0 1271.4h2.6v2.0h-2.6zM1661.4 1233.5h2.0v2.6h-2.0zM1696.1 1240.8h2.6v2.0h-2.6zM1726.1 1260.3h2.0v2.6h-2.0zM1745.6 1290.3h2.6v2.0h-2.6zM1752.9 1325.0h2.0v2.6h-2.0zM1745.6 1360.3h2.6v2.0h-2.6zM1726.1 1389.7h2.0v2.6h-2.0zM1696.1 1409.8h2.6v2.0h-2.6zM1661.4 1416.5h2.0v2.6h-2.0zM1626.1 1409.8h2.6v2.0h-2.6zM1596.7 1389.7h2.0v2.6h-2.0zM1576.6 1360.3h2.6v2.0h-2.6zM1569.9 1325.0h2.0v2.6h-2.0zM1576.6 1290.3h2.6v2.0h-2.6zM1596.7 1260.3h2.0v2.6h-2.0zM1626.1 1240.8h2.6v2.0h-2.6zM1661.4 1203.3h2.0v2.6h-2.0zM1692.6 1207.8h2.6v2.0h-2.6zM1722.2 1219.6h2.0v2.6h-2.0zM1747.2 1239.2h2.6v2.0h-2.6zM1766.8 1264.2h2.0v2.6h-2.0zM1778.6 1293.8h2.6v2.0h-2.6zM1783.1 1325.0h2.0v2.6h-2.0zM1778.6 1356.8h2.6v2.0h-2.6zM1766.8 1385.8h2.0v2.6h-2.0zM1747.2 1411.4h2.6v2.0h-2.6zM1722.2 1430.4h2.0v2.6h-2.0zM1692.6 1442.8h2.6v2.0h-2.6zM1661.4 1446.7h2.0v2.6h-2.0zM1629.6 1442.8h2.6v2.0h-2.6zM1600.6 1430.4h2.0v2.6h-2.0zM1575.0 1411.4h2.6v2.0h-2.6zM1556.0 1385.8h2.0v2.6h-2.0zM1543.6 1356.8h2.6v2.0h-2.6zM1539.7 1325.0h2.0v2.6h-2.0zM1543.6 1293.8h2.6v2.0h-2.6zM1556.0 1264.2h2.0v2.6h-2.0zM1575.0 1239.2h2.6v2.0h-2.6zM1600.6 1219.6h2.0v2.6h-2.0zM1629.6 1207.8h2.6v2.0h-2.6zM1661.4 1172.2h2.0v2.6h-2.0zM1690.9 1175.4h2.6v2.0h-2.6zM1719.9 1183.8h2.0v2.6h-2.0zM1746.0 1198.2h2.6v2.0h-2.6zM1769.4 1217.0h2.0v2.6h-2.0zM1788.2 1240.4h2.6v2.0h-2.6zM1802.6 1266.5h2.0v2.6h-2.0zM1811.0 1295.5h2.6v2.0h-2.6zM1814.2 1325.0h2.0v2.6h-2.0zM1811.0 1355.1h2.6v2.0h-2.6zM1802.6 1383.5h2.0v2.6h-2.0zM1788.2 1410.2h2.6v2.0h-2.6zM1769.4 1433.0h2.0v2.6h-2.0zM1746.0 1452.4h2.6v2.0h-2.6zM1719.9 1466.2h2.0v2.6h-2.0zM1690.9 1475.2h2.6v2.0h-2.6zM1661.4 1477.8h2.0v2.6h-2.0zM1631.3 1475.2h2.6v2.0h-2.6zM1602.9 1466.2h2.0v2.6h-2.0zM1576.2 1452.4h2.6v2.0h-2.6zM1553.4 1433.0h2.0v2.6h-2.0zM1534.0 1410.2h2.6v2.0h-2.6zM1520.2 1383.5h2.0v2.6h-2.0zM1511.2 1355.1h2.6v2.0h-2.6zM1508.6 1325.0h2.0v2.6h-2.0zM1511.2 1295.5h2.6v2.0h-2.6zM1520.2 1266.5h2.0v2.6h-2.0zM1534.0 1240.4h2.6v2.0h-2.6zM1553.4 1217.0h2.0v2.6h-2.0zM1576.2 1198.2h2.6v2.0h-2.6zM1602.9 1183.8h2.0v2.6h-2.0zM1631.3 1175.4h2.6v2.0h-2.6z" fill="#000"/></g><polygon points="1845.6,1326.3 1839.4,1373.7 1821.1,1417.9 1791.9,1455.8 1754.0,1485.0 1709.8,1503.3 1662.4,1509.5 1615.0,1503.3 1570.8,1485.0 1532.9,1455.8 1503.7,1417.9 1485.4,1373.7 1479.2,1326.3 1485.4,1278.9 1503.7,1234.7 1532.9,1196.8 1570.8,1167.6 1615.0,1149.3 1662.4,1143.1 1709.8,1149.3 1754.0,1167.6 1791.9,1196.8 1821.1,1234.7 1839.4,1278.9" fill="none" stroke="#000" stroke-width="1.8" stroke-dasharray="4.5 7"/>
<text x="1434.0" y="1307.9" font-size="42.9" font-weight="bold">-33.28</text>
<text x="1570.0" y="1307.9" font-size="43.0" font-weight="bold">-16.64</text>
<text x="1746.2" y="1317.0" font-size="42.1" font-weight="bold" textLength="99.3" lengthAdjust="spacingAndGlyphs">0.000</text>
<text x="1515.6" y="1376.6" font-size="44.3" font-weight="bold">-24.96</text>
<text x="1638.7" y="1376.6" font-size="44.1" font-weight="bold">-8.320</text>
<text x="1612.9" y="1571.0" font-size="44.8" textLength="102.3" lengthAdjust="spacingAndGlyphs">94kN</text>
<g clip-path="url(#kB97)"><rect x="1918.8" y="1263.1" width="369.2" height="369.2" fill="#FF0000"/><polygon points="2201.1,1185.1 2201.1,1250.8 2187.6,1288.4 2178.7,1313.2 2184.0,1348.6 2178.7,1373.4 2185.8,1401.8 2189.4,1428.4 2191.1,1454.9 2187.6,1490.4 2177.0,1517.0 2169.9,1525.8 2165.4,1543.5 2171.6,1571.9 2143.3,1589.6 2146.8,1621.5 2151.2,1661.3 2151.2,1710.3 1840.8,1710.3 1840.8,1185.1" fill="#FF0080"/><polygon points="2082.4,1185.1 2082.4,1238.7 2111.4,1266.2 2127.3,1281.3 2132.7,1295.4 2141.5,1322.0 2146.8,1348.6 2150.4,1384.0 2151.3,1419.5 2150.4,1454.9 2145.1,1490.4 2138.0,1525.8 2129.1,1561.3 2120.3,1582.5 2111.4,1596.7 2106.1,1605.6 2100.8,1607.3 2091.9,1625.0 2073.9,1660.7 2073.9,1710.3 1840.8,1710.3 1840.8,1185.1" fill="#FF8000"/><polygon points="2076.5,1185.1 2076.5,1228.4 2091.9,1265.3 2100.8,1286.6 2111.4,1313.2 2120.3,1339.7 2125.6,1366.3 2128.2,1401.8 2128.2,1437.2 2125.6,1463.8 2118.5,1508.1 2111.4,1534.7 2102.5,1570.1 2090.1,1605.6 2077.7,1625.0 2056.2,1658.7 2056.2,1710.3 1840.8,1710.3 1840.8,1185.1" fill="#FFFF00"/><polygon points="2065.7,1185.1 2065.7,1228.9 2077.7,1267.1 2086.6,1295.4 2093.7,1330.9 2100.8,1366.3 2104.3,1401.8 2105.2,1437.2 2102.5,1472.7 2097.2,1508.1 2090.1,1543.5 2079.5,1579.0 2068.9,1605.6 2063.5,1623.3 2051.8,1661.6 2051.8,1710.3 1840.8,1710.3 1840.8,1185.1" fill="#00FF00"/><polygon points="2039.4,1185.1 2039.4,1236.2 2044.0,1275.9 2049.3,1322.0 2056.4,1366.3 2059.9,1410.6 2059.9,1454.9 2054.6,1499.1 2047.5,1534.6 2036.9,1578.9 2026.3,1610.8 2013.7,1648.8 2013.7,1710.3 1840.8,1710.3 1840.8,1185.1" fill="#00FF40"/><polygon points="2017.2,1185.1 2017.2,1245.1 2021.9,1284.8 2026.3,1322.0 2031.6,1375.1 2034.3,1419.4 2033.4,1454.9 2026.3,1508.0 2015.7,1552.3 2006.8,1596.6 1998.9,1635.8 1998.9,1710.3 1840.8,1710.3 1840.8,1185.1" fill="#00FFA0"/><polygon points="1995.2,1185.1 1995.2,1259.2 1998.8,1299.0 2003.3,1348.6 2008.6,1401.7 2008.6,1454.9 2003.3,1499.1 1994.4,1543.4 1985.5,1582.4 1976.6,1621.4 1976.6,1710.3 1840.8,1710.3 1840.8,1185.1" fill="#00FFFF"/><polygon points="1933.9,1185.1 1933.9,1309.1 1943.0,1348.0 1944.8,1355.7 1949.2,1384.0 1952.8,1428.3 1952.8,1463.7 1943.0,1508.0 1939.5,1518.6 1937.0,1526.0 1924.2,1563.9 1924.2,1710.3 1840.8,1710.3 1840.8,1185.1" fill="#00A0FF"/><g fill="none" stroke="#000" stroke-width="1.3" stroke-dasharray="1.6 4.4"><polyline points="2187.6,1288.4 2178.7,1313.2 2184.0,1348.6 2178.7,1373.4 2185.8,1401.8 2189.4,1428.4 2191.1,1454.9 2187.6,1490.4 2177.0,1517.0 2169.9,1525.8 2165.4,1543.5 2171.6,1571.9 2143.3,1589.6 2146.8,1621.5"/><polyline points="2111.4,1266.2 2127.3,1281.3 2132.7,1295.4 2141.5,1322.0 2146.8,1348.6 2150.4,1384.0 2151.3,1419.5 2150.4,1454.9 2145.1,1490.4 2138.0,1525.8 2129.1,1561.3 2120.3,1582.5 2111.4,1596.7 2106.1,1605.6 2100.8,1607.3 2091.9,1625.0"/><polyline points="2091.9,1265.3 2100.8,1286.6 2111.4,1313.2 2120.3,1339.7 2125.6,1366.3 2128.2,1401.8 2128.2,1437.2 2125.6,1463.8 2118.5,1508.1 2111.4,1534.7 2102.5,1570.1 2090.1,1605.6 2077.7,1625.0"/><polyline points="2077.7,1267.1 2086.6,1295.4 2093.7,1330.9 2100.8,1366.3 2104.3,1401.8 2105.2,1437.2 2102.5,1472.7 2097.2,1508.1 2090.1,1543.5 2079.5,1579.0 2068.9,1605.6 2063.5,1623.3"/><polyline points="2065.3,1272.4 2070.6,1313.1 2079.4,1348.6 2083.9,1401.7 2083.0,1454.9 2075.9,1508.0 2067.0,1552.3 2044.0,1621.4"/><polyline points="2044.0,1275.9 2049.3,1322.0 2056.4,1366.3 2059.9,1410.6 2059.9,1454.9 2054.6,1499.1 2047.5,1534.6 2036.9,1578.9 2026.3,1610.8"/><polyline points="2021.9,1284.8 2026.3,1322.0 2031.6,1375.1 2034.3,1419.4 2033.4,1454.9 2026.3,1508.0 2015.7,1552.3 2006.8,1596.6"/><polyline points="1998.8,1299.0 2003.3,1348.6 2008.6,1401.7 2008.6,1454.9 2003.3,1499.1 1994.4,1543.4 1985.5,1582.4"/><polyline points="1976.7,1330.9 1980.2,1384.0 1982.0,1437.1 1980.2,1481.4 1973.1,1522.2 1962.5,1561.2"/><polyline points="1943.0,1348.0 1944.8,1355.7 1949.2,1384.0 1952.8,1428.3 1952.8,1463.7 1943.0,1508.0 1939.5,1518.6 1937.0,1526.0"/></g><path d="M2071.7 1416.3h2.6v2.0h-2.6zM2072.0 1446.4h2.0v2.6h-2.0zM2071.7 1477.1h2.6v2.0h-2.6zM2102.4 1416.0h2.0v2.6h-2.0zM2102.1 1446.7h2.6v2.0h-2.6zM2102.4 1476.8h2.0v2.6h-2.0zM2132.5 1416.3h2.6v2.0h-2.6zM2132.8 1446.4h2.0v2.6h-2.0zM2132.5 1477.1h2.6v2.0h-2.6zM2102.4 1384.3h2.0v2.6h-2.0zM2133.1 1392.9h2.6v2.0h-2.6zM2156.2 1415.4h2.0v2.6h-2.0zM2164.2 1446.7h2.6v2.0h-2.6zM2156.2 1477.4h2.0v2.6h-2.0zM2133.1 1500.5h2.6v2.0h-2.6zM2102.4 1508.5h2.0v2.6h-2.0zM2071.1 1500.5h2.6v2.0h-2.6zM2048.6 1477.4h2.0v2.6h-2.0zM2040.0 1446.7h2.6v2.0h-2.6zM2048.6 1415.4h2.0v2.6h-2.0zM2071.1 1392.9h2.6v2.0h-2.6zM2102.4 1355.1h2.0v2.6h-2.0zM2137.0 1362.3h2.6v2.0h-2.6zM2167.0 1381.8h2.0v2.6h-2.0zM2186.5 1411.8h2.6v2.0h-2.6zM2193.7 1446.4h2.0v2.6h-2.0zM2186.5 1481.6h2.6v2.0h-2.6zM2167.0 1511.0h2.0v2.6h-2.0zM2137.0 1531.1h2.6v2.0h-2.6zM2102.4 1537.7h2.0v2.6h-2.0zM2067.2 1531.1h2.6v2.0h-2.6zM2037.8 1511.0h2.0v2.6h-2.0zM2017.7 1481.6h2.6v2.0h-2.6zM2011.1 1446.4h2.0v2.6h-2.0zM2017.7 1411.8h2.6v2.0h-2.6zM2037.8 1381.8h2.0v2.6h-2.0zM2067.2 1362.3h2.6v2.0h-2.6zM2102.4 1325.0h2.0v2.6h-2.0zM2133.5 1329.4h2.6v2.0h-2.6zM2163.1 1341.2h2.0v2.6h-2.0zM2188.0 1360.8h2.6v2.0h-2.6zM2207.6 1385.7h2.0v2.6h-2.0zM2219.4 1415.3h2.6v2.0h-2.6zM2223.8 1446.4h2.0v2.6h-2.0zM2219.4 1478.1h2.6v2.0h-2.6zM2207.6 1507.1h2.0v2.6h-2.0zM2188.0 1532.6h2.6v2.0h-2.6zM2163.1 1551.6h2.0v2.6h-2.0zM2133.5 1564.0h2.6v2.0h-2.6zM2102.4 1567.8h2.0v2.6h-2.0zM2070.7 1564.0h2.6v2.0h-2.6zM2041.7 1551.6h2.0v2.6h-2.0zM2016.2 1532.6h2.6v2.0h-2.6zM1997.2 1507.1h2.0v2.6h-2.0zM1984.8 1478.1h2.6v2.0h-2.6zM1981.0 1446.4h2.0v2.6h-2.0zM1984.8 1415.3h2.6v2.0h-2.6zM1997.2 1385.7h2.0v2.6h-2.0zM2016.2 1360.8h2.6v2.0h-2.6zM2041.7 1341.2h2.0v2.6h-2.0zM2070.7 1329.4h2.6v2.0h-2.6zM2102.4 1293.9h2.0v2.6h-2.0zM2131.8 1297.2h2.6v2.0h-2.6zM2160.7 1305.5h2.0v2.6h-2.0zM2186.8 1319.9h2.6v2.0h-2.6zM2210.2 1338.6h2.0v2.6h-2.0zM2228.9 1362.0h2.6v2.0h-2.6zM2243.3 1388.1h2.0v2.6h-2.0zM2251.6 1417.0h2.6v2.0h-2.6zM2254.9 1446.4h2.0v2.6h-2.0zM2251.6 1476.4h2.6v2.0h-2.6zM2243.3 1504.7h2.0v2.6h-2.0zM2228.9 1531.4h2.6v2.0h-2.6zM2210.2 1554.2h2.0v2.6h-2.0zM2186.8 1573.5h2.6v2.0h-2.6zM2160.7 1587.3h2.0v2.6h-2.0zM2131.8 1596.2h2.6v2.0h-2.6zM2102.4 1598.9h2.0v2.6h-2.0zM2072.4 1596.2h2.6v2.0h-2.6zM2044.1 1587.3h2.0v2.6h-2.0zM2017.4 1573.5h2.6v2.0h-2.6zM1994.6 1554.2h2.0v2.6h-2.0zM1975.3 1531.4h2.6v2.0h-2.6zM1961.5 1504.7h2.0v2.6h-2.0zM1952.6 1476.4h2.6v2.0h-2.6zM1949.9 1446.4h2.0v2.6h-2.0zM1952.6 1417.0h2.6v2.0h-2.6zM1961.5 1388.1h2.0v2.6h-2.0zM1975.3 1362.0h2.6v2.0h-2.6zM1994.6 1338.6h2.0v2.6h-2.0zM2017.4 1319.9h2.6v2.0h-2.6zM2044.1 1305.5h2.0v2.6h-2.0zM2072.4 1297.2h2.6v2.0h-2.6z" fill="#000"/></g><polygon points="2286.2,1447.7 2280.0,1495.0 2261.7,1539.1 2232.7,1577.0 2194.8,1606.0 2150.7,1624.3 2103.4,1630.5 2056.1,1624.3 2012.0,1606.0 1974.1,1577.0 1945.1,1539.1 1926.8,1495.0 1920.6,1447.7 1926.8,1400.4 1945.1,1356.3 1974.1,1318.4 2012.0,1289.4 2056.1,1271.1 2103.4,1264.9 2150.7,1271.1 2194.8,1289.4 2232.7,1318.4 2261.7,1356.3 2280.0,1400.4" fill="none" stroke="#000" stroke-width="1.8" stroke-dasharray="4.5 7"/>
<text x="2028.7" y="1360.5" font-size="42.1" font-weight="bold">-16.64</text>
<text x="2157.2" y="1411.9" font-size="43.9" font-weight="bold">0.000</text>
<text x="1947.5" y="1428.1" font-size="39.8" font-weight="bold" textLength="111.3" lengthAdjust="spacingAndGlyphs">-33.28</text>
<text x="1839.2" y="1498.5" font-size="44.1" font-weight="bold">-41.62</text>
<text x="1974.6" y="1498.5" font-size="44.1" font-weight="bold" textLength="109.7" lengthAdjust="spacingAndGlyphs">-24.96</text>
<text x="2097.8" y="1498.5" font-size="43.9" font-weight="bold" textLength="111.4" lengthAdjust="spacingAndGlyphs">-8.320</text>
<text x="2015.3" y="1692.1" font-size="42.9" textLength="101.3" lengthAdjust="spacingAndGlyphs">97kN</text>
<rect x="718.00" y="713.0" width="83.35" height="68.0" fill="#808080"/><rect x="800.75" y="713.0" width="83.35" height="68.0" fill="#FF0000"/><rect x="883.50" y="713.0" width="83.35" height="68.0" fill="#FF8000"/><rect x="966.25" y="713.0" width="83.35" height="68.0" fill="#FFFF00"/><rect x="1049.00" y="713.0" width="83.35" height="68.0" fill="#00FF00"/><rect x="1131.75" y="713.0" width="83.35" height="68.0" fill="#00FF00"/><rect x="1214.50" y="713.0" width="83.35" height="68.0" fill="#00FF40"/><rect x="1297.25" y="713.0" width="83.35" height="68.0" fill="#00FFA0"/><rect x="1380.00" y="713.0" width="83.35" height="68.0" fill="#00FFFF"/><rect x="1462.75" y="713.0" width="83.35" height="68.0" fill="#0080FF"/><rect x="1545.50" y="713.0" width="83.35" height="68.0" fill="#0000FF"/><rect x="1628.25" y="713.0" width="82.75" height="68.0" fill="#000000"/><rect x="965.6" y="781.0" width="1.3" height="6.0" fill="#000"/><rect x="1131.1" y="781.0" width="1.3" height="6.0" fill="#000"/><rect x="1296.6" y="781.0" width="1.3" height="6.0" fill="#000"/><rect x="1462.1" y="781.0" width="1.3" height="6.0" fill="#000"/><rect x="1627.6" y="781.0" width="1.3" height="6.0" fill="#000"/><rect x="718.0" y="713.0" width="993.0" height="1.8" fill="#000"/><rect x="718.0" y="713.0" width="1.4" height="68.0" fill="#333"/>
<text x="752.9" y="828.7" font-size="43.3" textLength="100.5" lengthAdjust="spacingAndGlyphs">371.3</text>
<text x="945.8" y="828.7" font-size="43.2" textLength="77.6" lengthAdjust="spacingAndGlyphs">0.00</text>
<text x="1099.8" y="828.7" font-size="43.3" textLength="114.3" lengthAdjust="spacingAndGlyphs">-371.3</text>
<text x="1260.4" y="828.7" font-size="43.3" textLength="113.8" lengthAdjust="spacingAndGlyphs">-742.6</text>
<text x="1438.4" y="828.7" font-size="43.5" textLength="99.9" lengthAdjust="spacingAndGlyphs">-1114</text>
<text x="1585.2" y="828.7" font-size="43.2">-1485</text>
<text x="1508.7" y="688.0" font-size="43.2" textLength="203.0" lengthAdjust="spacingAndGlyphs">Strain (με)</text>
<rect x="983.20" y="1659.0" width="66.73" height="62.0" fill="#FF0000"/><rect x="1049.33" y="1659.0" width="66.73" height="62.0" fill="#FF0080"/><rect x="1115.47" y="1659.0" width="66.73" height="62.0" fill="#FF8000"/><rect x="1181.60" y="1659.0" width="66.73" height="62.0" fill="#FFFF00"/><rect x="1247.73" y="1659.0" width="66.73" height="62.0" fill="#00FF00"/><rect x="1313.87" y="1659.0" width="66.73" height="62.0" fill="#00FF00"/><rect x="1380.00" y="1659.0" width="66.73" height="62.0" fill="#00FF40"/><rect x="1446.13" y="1659.0" width="66.73" height="62.0" fill="#00FFA0"/><rect x="1512.27" y="1659.0" width="66.73" height="62.0" fill="#00FFFF"/><rect x="1578.40" y="1659.0" width="66.73" height="62.0" fill="#00FFFF"/><rect x="1644.53" y="1659.0" width="66.73" height="62.0" fill="#00A0FF"/><rect x="1710.67" y="1659.0" width="66.13" height="62.0" fill="#000000"/><rect x="1048.7" y="1721.0" width="1.3" height="5.5" fill="#777"/><rect x="1710.0" y="1721.0" width="1.3" height="5.5" fill="#777"/>
<text x="996.0" y="1773.2" font-size="42.1" textLength="98.6" lengthAdjust="spacingAndGlyphs">0.000</text>
<text x="1121.9" y="1773.2" font-size="42.1" textLength="113.2" lengthAdjust="spacingAndGlyphs">-8.320</text>
<text x="1254.4" y="1773.2" font-size="42.3" textLength="113.7" lengthAdjust="spacingAndGlyphs">-16.64</text>
<text x="1390.4" y="1773.2" font-size="42.3" textLength="114.0" lengthAdjust="spacingAndGlyphs">-24.96</text>
<text x="1523.6" y="1773.2" font-size="42.1" textLength="113.1" lengthAdjust="spacingAndGlyphs">-33.28</text>
<text x="1660.0" y="1773.2" font-size="42.3" textLength="112.9" lengthAdjust="spacingAndGlyphs">-41.62</text>
<text x="1543.3" y="1644.5" font-size="43.2" textLength="241.4" lengthAdjust="spacingAndGlyphs">Stress (MPa)</text>
<rect x="854.10" y="2558.4" width="54.21" height="34.1" fill="#900000"/><rect x="907.71" y="2558.4" width="54.21" height="34.1" fill="#FF0000"/><rect x="961.32" y="2558.4" width="54.21" height="34.1" fill="#FF5500"/><rect x="1014.92" y="2558.4" width="54.21" height="34.1" fill="#FFAA00"/><rect x="1068.53" y="2558.4" width="54.21" height="34.1" fill="#FFFF00"/><rect x="1122.14" y="2558.4" width="54.21" height="34.1" fill="#00FF00"/><rect x="1175.75" y="2558.4" width="54.21" height="34.1" fill="#00FF00"/><rect x="1229.35" y="2558.4" width="54.21" height="34.1" fill="#00FF40"/><rect x="1282.96" y="2558.4" width="54.21" height="34.1" fill="#00FFA0"/><rect x="1336.57" y="2558.4" width="54.21" height="34.1" fill="#00FFFF"/><rect x="1390.18" y="2558.4" width="54.21" height="34.1" fill="#0080FF"/><rect x="1443.78" y="2558.4" width="54.21" height="34.1" fill="#0000FF"/><rect x="1497.39" y="2558.4" width="53.61" height="34.1" fill="#000000"/><rect x="960.7" y="2592.5" width="1.3" height="3.5" fill="#777"/><rect x="1067.9" y="2592.5" width="1.3" height="3.5" fill="#777"/><rect x="854.1" y="2558.4" width="1.4" height="34.1" fill="#000"/>
<text x="879.5" y="2630.0" font-size="38.5" textLength="93.7" lengthAdjust="spacingAndGlyphs">28.62</text>
<text x="988.5" y="2630.0" font-size="38.5" textLength="104.5" lengthAdjust="spacingAndGlyphs">-34.60</text>
<text x="1103.6" y="2630.0" font-size="38.5" textLength="105.3" lengthAdjust="spacingAndGlyphs">-97.82</text>
<text x="1233.6" y="2630.0" font-size="38.7" textLength="73.4" lengthAdjust="spacingAndGlyphs">-161</text>
<text x="1333.0" y="2630.0" font-size="38.7" textLength="105.4" lengthAdjust="spacingAndGlyphs">-224.3</text>
<text x="1448.9" y="2630.0" font-size="38.5" textLength="105.4" lengthAdjust="spacingAndGlyphs">-287.5</text>
<text x="1337.6" y="2540.0" font-size="39.5" textLength="226.6" lengthAdjust="spacingAndGlyphs">Stress (MPa)</text>
<text x="1170.5" y="969.6" font-size="61.4" textLength="71.6" lengthAdjust="spacingAndGlyphs">(<tspan font-weight="bold">a</tspan>)</text>
<text x="1164.9" y="1906.2" font-size="61.3" textLength="81.1" lengthAdjust="spacingAndGlyphs">(<tspan font-weight="bold">b</tspan>)</text>
<text x="1171.0" y="2854.4" font-size="62.8" textLength="67.5" lengthAdjust="spacingAndGlyphs">(<tspan font-weight="bold">c</tspan>)</text>
<text x="549.0" y="54.6" font-size="42.9" textLength="433.4" lengthAdjust="spacingAndGlyphs">Quanlitative leap after</text>
<text x="656.5" y="106.5" font-size="42.2" textLength="219.6" lengthAdjust="spacingAndGlyphs">failure load</text>
<path d="M715.7,195.8 C760,166 830,132 900,120 C950,112 990,117 1026.7,126.6" fill="none" stroke="#000" stroke-width="2.3"/>
<path d="M1012.4,113.1 L1026.7,126.6 L1008,133.3" fill="none" stroke="#000" stroke-width="2.3"/>
<path d="M773.2,1107.8 C830,1068 910,1038 990,1030 C1030,1027 1058,1033 1080.1,1039.4" fill="none" stroke="#000" stroke-width="1.9"/>
<path d="M1067.7,1025.9 L1080.1,1039.4 L1061.4,1046.7" fill="none" stroke="#000" stroke-width="1.9"/>
<path d="M1422.5,1986.8 L1459.6,1986.8" fill="none" stroke="#000" stroke-width="1.6"/>
<path d="M1459.6,1986.8 C1500,1990 1560,2005 1600,2026 C1620,2036 1640,2048 1652.3,2059.4" fill="none" stroke="#000" stroke-width="1.4" stroke-dasharray="10 5"/>
<path d="M1639.3,2058.2 L1652.3,2059.4 L1648.8,2045.5" fill="none" stroke="#000" stroke-width="1.3"/>
<polygon points="613.6,2129.9 617.5,2129.0 630.9,2126.8 644.4,2125.4 658.0,2125.0 671.6,2125.4 685.1,2126.8 698.5,2129.0 709.3,2131.5 706.7,2141.7 696.4,2139.3 683.7,2137.2 670.9,2135.9 658.0,2135.5 645.1,2135.9 632.3,2137.2 619.6,2139.3 615.9,2140.1" fill="#FFAA00" stroke="#FFAA00" stroke-width="0.6"/><polygon points="709.3,2131.5 711.7,2132.1 724.7,2136.0 737.4,2140.8 749.8,2146.4 761.7,2152.8 773.3,2160.0 784.3,2167.9 794.8,2176.5 804.7,2185.8 814.0,2195.7 822.6,2206.2 830.5,2217.2 837.7,2228.8 839.3,2231.7 830.1,2236.8 828.6,2234.0 821.8,2223.1 814.3,2212.6 806.1,2202.6 797.3,2193.2 787.9,2184.4 777.9,2176.2 767.4,2168.7 756.5,2161.9 745.1,2155.8 733.4,2150.5 721.3,2146.0 709.0,2142.2 706.7,2141.7" fill="#FF5500" stroke="#FF5500" stroke-width="0.6"/><polygon points="839.3,2231.7 844.1,2240.7 849.7,2253.1 854.5,2265.8 858.4,2278.8 861.5,2292.0 863.7,2305.4 865.1,2318.9 865.5,2332.5 865.1,2346.1 863.7,2359.6 863.5,2361.1 853.1,2359.7 853.3,2358.2 854.6,2345.4 855.0,2332.5 854.6,2319.6 853.3,2306.8 851.2,2294.1 848.3,2281.5 844.5,2269.2 840.0,2257.1 834.7,2245.4 830.1,2236.8" fill="#FFAA00" stroke="#FFAA00" stroke-width="0.6"/><polygon points="863.5,2361.1 861.5,2373.0 858.4,2386.2 854.5,2399.2 853.2,2402.6 843.3,2399.0 844.5,2395.8 848.3,2383.5 851.2,2370.9 853.1,2359.7" fill="#FFFF00" stroke="#FFFF00" stroke-width="0.6"/><polygon points="853.2,2402.6 849.7,2411.9 844.1,2424.3 837.7,2436.2 830.5,2447.8 822.6,2458.8 814.0,2469.3 804.7,2479.2 799.5,2484.1 792.4,2476.4 797.3,2471.8 806.1,2462.4 814.3,2452.4 821.8,2441.9 828.6,2431.0 834.7,2419.6 840.0,2407.9 843.3,2399.0" fill="#00FF00" stroke="#00FF00" stroke-width="0.6"/><polygon points="799.5,2484.1 794.8,2488.5 784.3,2497.1 773.3,2505.0 761.8,2512.2 749.8,2518.6 737.4,2524.2 735.1,2525.1 731.2,2515.3 733.4,2514.5 745.1,2509.2 756.5,2503.1 767.4,2496.3 777.9,2488.8 787.9,2480.6 792.4,2476.4" fill="#00FF40" stroke="#00FF40" stroke-width="0.6"/><polygon points="735.1,2525.1 724.7,2529.0 711.7,2532.9 698.5,2536.0 685.1,2538.2 671.6,2539.6 658.0,2540.0 644.4,2539.6 630.9,2538.2 617.5,2536.0 604.3,2532.9 591.3,2529.0 579.9,2524.7 583.8,2515.0 594.7,2519.0 607.0,2522.8 619.6,2525.7 632.3,2527.8 645.1,2529.1 658.0,2529.5 670.9,2529.1 683.7,2527.8 696.4,2525.7 709.0,2522.8 721.3,2519.0 731.2,2515.3" fill="#00FFA0" stroke="#00FFA0" stroke-width="0.6"/><polygon points="579.9,2524.7 578.6,2524.2 566.2,2518.6 554.2,2512.2 542.7,2505.0 531.7,2497.1 527.7,2493.8 534.3,2485.7 538.1,2488.8 548.6,2496.3 559.5,2503.1 570.9,2509.2 582.6,2514.5 583.8,2515.0" fill="#00FF40" stroke="#00FF40" stroke-width="0.6"/><polygon points="527.7,2493.8 521.2,2488.5 511.3,2479.2 502.0,2469.3 493.4,2458.8 485.5,2447.8 478.3,2436.2 471.9,2424.3 466.3,2411.9 466.1,2411.3 475.8,2407.3 476.0,2407.9 481.3,2419.6 487.4,2431.0 494.2,2441.9 501.7,2452.4 509.9,2462.4 518.7,2471.8 528.1,2480.6 534.3,2485.7" fill="#00FF00" stroke="#00FF00" stroke-width="0.6"/><polygon points="466.1,2411.3 461.5,2399.2 457.6,2386.2 454.5,2373.0 454.3,2372.0 464.6,2370.0 464.8,2370.9 467.7,2383.5 471.5,2395.8 475.8,2407.3" fill="#FFFF00" stroke="#FFFF00" stroke-width="0.6"/><polygon points="454.3,2372.0 452.3,2359.6 450.9,2346.1 450.5,2332.5 450.9,2319.9 461.4,2320.5 461.0,2332.5 461.4,2345.4 462.7,2358.2 464.6,2370.0" fill="#FFAA00" stroke="#FFAA00" stroke-width="0.6"/><polygon points="450.9,2319.9 450.9,2318.9 452.3,2305.4 454.5,2292.0 457.6,2278.8 461.5,2265.8 466.3,2253.1 471.9,2240.7 478.3,2228.8 485.5,2217.2 493.4,2206.2 502.0,2195.7 511.3,2185.8 521.2,2176.5 531.7,2167.9 542.7,2160.0 554.2,2152.8 566.2,2146.4 578.6,2140.8 591.3,2136.0 604.3,2132.1 613.6,2129.9 615.9,2140.1 607.0,2142.2 594.7,2146.0 582.6,2150.5 570.9,2155.8 559.5,2161.9 548.6,2168.7 538.1,2176.2 528.1,2184.4 518.7,2193.2 509.9,2202.6 501.7,2212.6 494.2,2223.1 487.4,2234.0 481.3,2245.4 476.0,2257.1 471.5,2269.2 467.7,2281.5 464.8,2294.1 462.7,2306.8 461.4,2319.6 461.4,2320.5" fill="#FF5500" stroke="#FF5500" stroke-width="0.6"/><polygon points="865.0,2332.5 864.6,2346.0 863.2,2359.5 861.0,2372.9 857.9,2386.1 854.0,2399.0 849.2,2411.7 843.7,2424.1 837.3,2436.0 830.1,2447.5 822.2,2458.5 813.6,2469.0 804.4,2478.9 794.5,2488.1 784.0,2496.7 773.0,2504.6 761.5,2511.8 749.6,2518.2 737.2,2523.7 724.5,2528.5 711.6,2532.4 698.4,2535.5 685.0,2537.7 671.5,2539.1 658.0,2539.5 644.5,2539.1 631.0,2537.7 617.6,2535.5 604.4,2532.4 591.5,2528.5 578.8,2523.7 566.4,2518.2 554.5,2511.8 543.0,2504.6 532.0,2496.7 521.5,2488.1 511.6,2478.9 502.4,2469.0 493.8,2458.5 485.9,2447.5 478.7,2436.0 472.3,2424.1 466.8,2411.7 462.0,2399.0 458.1,2386.1 455.0,2372.9 452.8,2359.5 451.4,2346.0 451.0,2332.5 451.4,2319.0 452.8,2305.5 455.0,2292.1 458.1,2278.9 462.0,2266.0 466.8,2253.3 472.3,2240.9 478.7,2229.0 485.9,2217.5 493.8,2206.5 502.4,2196.0 511.6,2186.1 521.5,2176.9 532.0,2168.3 543.0,2160.4 554.5,2153.2 566.4,2146.8 578.8,2141.3 591.5,2136.5 604.4,2132.6 617.6,2129.5 631.0,2127.3 644.5,2125.9 658.0,2125.5 671.5,2125.9 685.0,2127.3 698.4,2129.5 711.6,2132.6 724.5,2136.5 737.2,2141.3 749.6,2146.8 761.5,2153.2 773.0,2160.4 784.0,2168.3 794.5,2176.9 804.4,2186.1 813.6,2196.0 822.2,2206.5 830.1,2217.5 837.3,2229.0 843.7,2240.9 849.2,2253.3 854.0,2266.0 857.9,2278.9 861.0,2292.1 863.2,2305.5 864.6,2319.0" fill="none" stroke="#000" stroke-width="1.6" stroke-dasharray="2.2 4"/><polygon points="855.5,2332.5 855.1,2345.4 853.8,2358.3 851.7,2371.0 848.8,2383.6 845.0,2396.0 840.5,2408.1 835.1,2419.9 829.0,2431.2 822.2,2442.2 814.7,2452.7 806.5,2462.7 797.7,2472.2 788.2,2481.0 778.2,2489.2 767.7,2496.7 756.8,2503.5 745.4,2509.6 733.6,2515.0 721.5,2519.5 709.1,2523.3 696.5,2526.2 683.8,2528.3 670.9,2529.6 658.0,2530.0 645.1,2529.6 632.2,2528.3 619.5,2526.2 606.9,2523.3 594.5,2519.5 582.4,2515.0 570.6,2509.6 559.2,2503.5 548.3,2496.7 537.8,2489.2 527.8,2481.0 518.3,2472.2 509.5,2462.7 501.3,2452.7 493.8,2442.2 487.0,2431.2 480.9,2419.9 475.5,2408.1 471.0,2396.0 467.2,2383.6 464.3,2371.0 462.2,2358.3 460.9,2345.4 460.5,2332.5 460.9,2319.6 462.2,2306.7 464.3,2294.0 467.2,2281.4 471.0,2269.0 475.5,2256.9 480.9,2245.1 487.0,2233.8 493.8,2222.8 501.3,2212.3 509.5,2202.3 518.3,2192.8 527.8,2184.0 537.8,2175.8 548.3,2168.3 559.2,2161.5 570.6,2155.4 582.4,2150.0 594.5,2145.5 606.9,2141.7 619.5,2138.8 632.2,2136.7 645.1,2135.4 658.0,2135.0 670.9,2135.4 683.8,2136.7 696.5,2138.8 709.1,2141.7 721.5,2145.5 733.6,2150.0 745.4,2155.4 756.8,2161.5 767.7,2168.3 778.2,2175.8 788.2,2184.0 797.7,2192.8 806.5,2202.3 814.7,2212.3 822.2,2222.8 829.0,2233.8 835.1,2245.1 840.5,2256.9 845.0,2269.0 848.8,2281.4 851.7,2294.0 853.8,2306.7 855.1,2319.6" fill="none" stroke="#000" stroke-width="1.3" stroke-dasharray="2.2 4.5"/>
<text x="617.8" y="2172.6" font-size="37.9" font-weight="bold" textLength="91.5" lengthAdjust="spacingAndGlyphs">28.62</text>
<text x="488.6" y="2381.0" font-size="39.8" font-weight="bold" textLength="104.5" lengthAdjust="spacingAndGlyphs">-34.60</text>
<text x="711.4" y="2436.5" font-size="39.8" font-weight="bold" textLength="104.7" lengthAdjust="spacingAndGlyphs">-97.82</text>
<text x="569.3" y="2501.5" font-size="40.0" font-weight="bold">-161</text>
<text x="595.0" y="2586.7" font-size="37.0" textLength="95.9" lengthAdjust="spacingAndGlyphs">75kN</text>
<polygon points="1158.5,1972.9 1171.4,1970.8 1185.0,1969.4 1198.7,1969.0 1212.4,1969.4 1226.0,1970.8 1239.6,1973.0 1249.1,1975.2 1246.5,1985.4 1237.5,1983.3 1224.7,1981.2 1211.7,1979.9 1198.7,1979.5 1185.7,1979.9 1172.7,1981.2 1160.5,1983.2" fill="#FFAA00" stroke="#FFAA00" stroke-width="0.6"/><polygon points="1249.1,1975.2 1252.9,1976.1 1266.0,1980.1 1278.9,1984.9 1291.4,1990.6 1303.4,1997.1 1315.1,2004.3 1326.2,2012.3 1336.8,2021.0 1346.8,2030.4 1356.2,2040.4 1364.9,2051.0 1372.9,2062.1 1380.1,2073.8 1383.8,2080.6 1374.5,2085.5 1371.0,2079.0 1364.2,2067.9 1356.6,2057.4 1348.3,2047.3 1339.4,2037.8 1329.9,2028.9 1319.8,2020.6 1309.3,2013.0 1298.2,2006.2 1286.7,2000.0 1274.9,1994.6 1262.7,1990.1 1250.2,1986.3 1246.5,1985.4" fill="#FF5500" stroke="#FF5500" stroke-width="0.6"/><polygon points="1383.8,2080.6 1386.6,2085.8 1392.3,2098.3 1397.1,2111.2 1401.1,2124.3 1404.2,2137.6 1406.4,2151.2 1407.8,2164.8 1408.2,2178.5 1407.8,2192.2 1407.5,2194.8 1397.0,2194.0 1397.3,2191.5 1397.7,2178.5 1397.3,2165.5 1396.0,2152.5 1393.9,2139.7 1390.9,2127.0 1387.1,2114.5 1382.6,2102.3 1377.2,2090.5 1374.5,2085.5" fill="#FFAA00" stroke="#FFAA00" stroke-width="0.6"/><polygon points="1407.5,2194.8 1406.4,2205.8 1404.2,2219.4 1402.3,2227.5 1392.1,2225.0 1393.9,2217.3 1396.0,2204.5 1397.0,2194.0" fill="#FFFF00" stroke="#FFFF00" stroke-width="0.6"/><polygon points="1402.3,2227.5 1401.1,2232.7 1397.1,2245.8 1392.3,2258.7 1386.6,2271.2 1380.3,2282.9 1371.2,2277.6 1377.2,2266.5 1382.6,2254.7 1387.1,2242.5 1390.9,2230.0 1392.1,2225.0" fill="#00FF00" stroke="#00FF00" stroke-width="0.6"/><polygon points="1380.3,2282.9 1380.1,2283.2 1372.9,2294.9 1364.9,2306.0 1357.0,2315.7 1349.0,2308.8 1356.6,2299.6 1364.2,2289.1 1371.0,2278.0 1371.2,2277.6" fill="#00FF40" stroke="#00FF40" stroke-width="0.6"/><polygon points="1357.0,2315.7 1356.2,2316.6 1346.8,2326.6 1336.8,2336.0 1326.2,2344.7 1325.5,2345.2 1319.1,2336.9 1319.8,2336.4 1329.9,2328.1 1339.4,2319.2 1348.3,2309.7 1349.0,2308.8" fill="#00FFA0" stroke="#00FFA0" stroke-width="0.6"/><polygon points="1325.5,2345.2 1315.1,2352.7 1303.5,2359.9 1291.4,2366.4 1285.6,2369.0 1281.2,2359.5 1286.7,2357.0 1298.2,2350.8 1309.3,2344.0 1319.1,2336.9" fill="#00FFFF" stroke="#00FFFF" stroke-width="0.6"/><polygon points="1285.6,2369.0 1278.9,2372.1 1266.0,2376.9 1252.9,2380.9 1242.8,2383.2 1240.6,2373.0 1250.2,2370.7 1262.7,2366.9 1274.9,2362.4 1281.2,2359.5" fill="#0080FF" stroke="#0080FF" stroke-width="0.6"/><polygon points="1242.8,2383.2 1239.6,2384.0 1226.0,2386.2 1212.4,2387.6 1198.7,2388.0 1185.0,2387.6 1171.4,2386.2 1158.2,2384.0 1160.3,2373.7 1172.7,2375.8 1185.7,2377.1 1198.7,2377.5 1211.7,2377.1 1224.7,2375.8 1237.5,2373.7 1240.6,2373.0" fill="#0000FF" stroke="#0000FF" stroke-width="0.6"/><polygon points="1158.2,2384.0 1157.8,2384.0 1144.5,2380.9 1131.4,2376.9 1118.5,2372.1 1116.0,2370.9 1120.2,2361.3 1122.5,2362.4 1134.7,2366.9 1147.2,2370.7 1159.9,2373.7 1160.3,2373.7" fill="#0080FF" stroke="#0080FF" stroke-width="0.6"/><polygon points="1116.0,2370.9 1106.0,2366.4 1094.0,2359.9 1082.3,2352.7 1078.2,2349.8 1084.3,2341.2 1088.1,2344.0 1099.2,2350.8 1110.7,2357.0 1120.2,2361.3" fill="#00FFFF" stroke="#00FFFF" stroke-width="0.6"/><polygon points="1078.2,2349.8 1071.2,2344.7 1060.6,2336.0 1050.6,2326.6 1047.0,2322.8 1054.6,2315.6 1058.0,2319.2 1067.5,2328.1 1077.6,2336.4 1084.3,2341.2" fill="#00FFA0" stroke="#00FFA0" stroke-width="0.6"/><polygon points="1047.0,2322.8 1041.2,2316.6 1032.5,2306.0 1024.5,2294.9 1022.7,2292.1 1031.6,2286.4 1033.2,2289.1 1040.8,2299.6 1049.1,2309.7 1054.6,2315.6" fill="#00FF40" stroke="#00FF40" stroke-width="0.6"/><polygon points="1022.7,2292.1 1017.3,2283.2 1010.8,2271.2 1005.1,2258.7 1000.3,2245.8 996.6,2233.6 1006.7,2230.8 1010.3,2242.5 1014.8,2254.7 1020.2,2266.5 1026.4,2278.0 1031.6,2286.4" fill="#00FF00" stroke="#00FF00" stroke-width="0.6"/><polygon points="996.6,2233.6 996.3,2232.7 993.2,2219.4 991.5,2208.8 1001.9,2207.3 1003.5,2217.3 1006.5,2230.0 1006.7,2230.8" fill="#FFFF00" stroke="#FFFF00" stroke-width="0.6"/><polygon points="991.5,2208.8 991.0,2205.8 989.6,2192.2 989.2,2178.5 989.5,2169.4 1000.0,2169.9 999.7,2178.5 1000.1,2191.5 1001.4,2204.5 1001.9,2207.3" fill="#FFAA00" stroke="#FFAA00" stroke-width="0.6"/><polygon points="989.5,2169.4 989.6,2164.8 991.0,2151.2 993.2,2137.6 996.3,2124.3 1000.3,2111.2 1005.1,2098.3 1010.8,2085.8 1017.3,2073.8 1024.5,2062.1 1032.5,2051.0 1041.2,2040.4 1050.6,2030.4 1060.6,2021.0 1071.2,2012.3 1082.3,2004.3 1094.0,1997.1 1106.0,1990.6 1118.5,1984.9 1131.4,1980.1 1144.5,1976.1 1157.8,1973.0 1158.5,1972.9 1160.5,1983.2 1159.9,1983.3 1147.2,1986.3 1134.7,1990.1 1122.5,1994.6 1110.7,2000.0 1099.2,2006.2 1088.1,2013.0 1077.6,2020.6 1067.5,2028.9 1058.0,2037.8 1049.1,2047.3 1040.8,2057.4 1033.2,2067.9 1026.4,2079.0 1020.2,2090.5 1014.8,2102.3 1010.3,2114.5 1006.5,2127.0 1003.5,2139.7 1001.4,2152.5 1000.1,2165.5 1000.0,2169.9" fill="#FF5500" stroke="#FF5500" stroke-width="0.6"/><polygon points="1407.7,2178.5 1407.3,2192.2 1405.9,2205.8 1403.7,2219.3 1400.6,2232.6 1396.6,2245.7 1391.8,2258.5 1386.1,2270.9 1379.7,2283.0 1372.5,2294.6 1364.5,2305.7 1355.8,2316.3 1346.5,2326.3 1336.5,2335.6 1325.9,2344.3 1314.8,2352.3 1303.2,2359.5 1291.1,2365.9 1278.7,2371.6 1265.9,2376.4 1252.8,2380.4 1239.5,2383.5 1226.0,2385.7 1212.4,2387.1 1198.7,2387.5 1185.0,2387.1 1171.4,2385.7 1157.9,2383.5 1144.6,2380.4 1131.5,2376.4 1118.7,2371.6 1106.3,2365.9 1094.2,2359.5 1082.6,2352.3 1071.5,2344.3 1060.9,2335.6 1050.9,2326.3 1041.6,2316.3 1032.9,2305.7 1024.9,2294.6 1017.7,2283.0 1011.3,2270.9 1005.6,2258.5 1000.8,2245.7 996.8,2232.6 993.7,2219.3 991.5,2205.8 990.1,2192.2 989.7,2178.5 990.1,2164.8 991.5,2151.2 993.7,2137.7 996.8,2124.4 1000.8,2111.3 1005.6,2098.5 1011.3,2086.1 1017.7,2074.0 1024.9,2062.4 1032.9,2051.3 1041.6,2040.7 1050.9,2030.7 1060.9,2021.4 1071.5,2012.7 1082.6,2004.7 1094.2,1997.5 1106.3,1991.1 1118.7,1985.4 1131.5,1980.6 1144.6,1976.6 1157.9,1973.5 1171.4,1971.3 1185.0,1969.9 1198.7,1969.5 1212.4,1969.9 1226.0,1971.3 1239.5,1973.5 1252.8,1976.6 1265.9,1980.6 1278.7,1985.4 1291.1,1991.1 1303.2,1997.5 1314.8,2004.7 1325.9,2012.7 1336.5,2021.4 1346.5,2030.7 1355.8,2040.7 1364.5,2051.3 1372.5,2062.4 1379.7,2074.0 1386.1,2086.1 1391.8,2098.5 1396.6,2111.3 1400.6,2124.4 1403.7,2137.7 1405.9,2151.2 1407.3,2164.8" fill="none" stroke="#000" stroke-width="1.6" stroke-dasharray="2.2 4"/><polygon points="1398.2,2178.5 1397.8,2191.5 1396.5,2204.5 1394.4,2217.4 1391.4,2230.1 1387.6,2242.6 1383.0,2254.8 1377.6,2266.7 1371.5,2278.2 1364.6,2289.3 1357.0,2299.9 1348.7,2310.0 1339.8,2319.6 1330.2,2328.5 1320.1,2336.8 1309.5,2344.4 1298.5,2351.3 1286.9,2357.4 1275.0,2362.8 1262.8,2367.4 1250.3,2371.2 1237.6,2374.2 1224.7,2376.3 1211.7,2377.6 1198.7,2378.0 1185.7,2377.6 1172.7,2376.3 1159.8,2374.2 1147.1,2371.2 1134.6,2367.4 1122.4,2362.8 1110.5,2357.4 1099.0,2351.3 1087.9,2344.4 1077.3,2336.8 1067.2,2328.5 1057.6,2319.6 1048.7,2310.0 1040.4,2299.9 1032.8,2289.3 1025.9,2278.2 1019.8,2266.7 1014.4,2254.8 1009.8,2242.6 1006.0,2230.1 1003.0,2217.4 1000.9,2204.5 999.6,2191.5 999.2,2178.5 999.6,2165.5 1000.9,2152.5 1003.0,2139.6 1006.0,2126.9 1009.8,2114.4 1014.4,2102.2 1019.8,2090.3 1025.9,2078.8 1032.8,2067.7 1040.4,2057.1 1048.7,2047.0 1057.6,2037.4 1067.2,2028.5 1077.3,2020.2 1087.9,2012.6 1099.0,2005.7 1110.5,1999.6 1122.4,1994.2 1134.6,1989.6 1147.1,1985.8 1159.8,1982.8 1172.7,1980.7 1185.7,1979.4 1198.7,1979.0 1211.7,1979.4 1224.7,1980.7 1237.6,1982.8 1250.3,1985.8 1262.8,1989.6 1275.0,1994.2 1286.9,1999.6 1298.5,2005.7 1309.5,2012.6 1320.1,2020.2 1330.2,2028.5 1339.8,2037.4 1348.7,2047.0 1357.0,2057.1 1364.6,2067.7 1371.5,2078.8 1377.6,2090.3 1383.0,2102.2 1387.6,2114.4 1391.4,2126.9 1394.4,2139.6 1396.5,2152.5 1397.8,2165.5" fill="none" stroke="#000" stroke-width="1.3" stroke-dasharray="2.2 4.5"/>
<text x="1255.5" y="2082.4" font-size="40.7" font-weight="bold">28.62</text>
<text x="1006.9" y="2227.5" font-size="42.7" font-weight="bold" textLength="103.9" lengthAdjust="spacingAndGlyphs">-34.60</text>
<text x="1264.0" y="2251.0" font-size="40.6" font-weight="bold">-97.82</text>
<text x="1264.0" y="2314.6" font-size="38.8" font-weight="bold" textLength="74.1" lengthAdjust="spacingAndGlyphs">-161</text>
<text x="1132.7" y="2363.0" font-size="40.9" font-weight="bold">-224.3</text>
<text x="1146.4" y="2439.0" font-size="37.8" textLength="95.2" lengthAdjust="spacingAndGlyphs">85kN</text>
<polygon points="1710.3,2127.8 1720.4,2126.2 1733.9,2124.8 1739.6,2124.7 1740.0,2135.1 1734.6,2135.3 1721.7,2136.6 1712.2,2138.2" fill="#FFFF00" stroke="#FFFF00" stroke-width="0.6"/><polygon points="1739.6,2124.7 1747.5,2124.4 1761.1,2124.8 1774.6,2126.2 1788.0,2128.4 1801.3,2131.5 1814.3,2135.4 1827.0,2140.2 1835.7,2144.1 1831.2,2153.6 1823.0,2149.9 1810.9,2145.4 1798.6,2141.6 1786.0,2138.7 1773.3,2136.6 1760.4,2135.3 1747.5,2134.9 1740.0,2135.1" fill="#FFAA00" stroke="#FFAA00" stroke-width="0.6"/><polygon points="1835.7,2144.1 1839.4,2145.8 1851.4,2152.2 1862.9,2159.4 1874.0,2167.3 1884.5,2176.0 1894.4,2185.3 1903.7,2195.2 1912.4,2205.7 1920.3,2216.8 1927.5,2228.3 1933.9,2240.3 1939.5,2252.7 1944.3,2265.4 1948.2,2278.4 1951.3,2291.7 1953.5,2305.1 1954.9,2318.6 1955.3,2332.2 1954.9,2345.8 1953.5,2359.3 1951.3,2372.7 1948.2,2386.0 1944.3,2399.0 1941.3,2407.0 1931.5,2403.2 1934.3,2395.6 1938.1,2383.3 1941.0,2370.7 1943.1,2358.0 1944.4,2345.1 1944.8,2332.2 1944.4,2319.3 1943.1,2306.4 1941.0,2293.7 1938.1,2281.1 1934.3,2268.8 1929.8,2256.7 1924.5,2244.9 1918.4,2233.5 1911.5,2222.6 1904.0,2212.1 1895.8,2202.1 1887.0,2192.7 1877.6,2183.9 1867.6,2175.7 1857.1,2168.2 1846.1,2161.3 1834.8,2155.2 1831.2,2153.6" fill="#FF5500" stroke="#FF5500" stroke-width="0.6"/><polygon points="1941.3,2407.0 1939.5,2411.7 1933.9,2424.1 1927.5,2436.1 1920.3,2447.6 1912.4,2458.7 1903.7,2469.2 1894.4,2479.1 1884.5,2488.4 1884.5,2488.5 1877.6,2480.6 1877.6,2480.5 1887.0,2471.7 1895.8,2462.3 1904.0,2452.3 1911.5,2441.8 1918.4,2430.8 1924.5,2419.5 1929.8,2407.7 1931.5,2403.2" fill="#FF0000" stroke="#FF0000" stroke-width="0.6"/><polygon points="1884.5,2488.5 1874.0,2497.1 1862.9,2505.0 1851.4,2512.2 1839.4,2518.6 1827.0,2524.2 1814.3,2529.0 1801.3,2532.9 1788.0,2536.0 1774.6,2538.2 1761.1,2539.6 1753.9,2539.8 1753.6,2529.3 1760.4,2529.1 1773.3,2527.8 1786.0,2525.7 1798.6,2522.8 1810.9,2519.0 1823.0,2514.5 1834.8,2509.2 1846.2,2503.1 1857.1,2496.2 1867.6,2488.7 1877.6,2480.6" fill="#FF5500" stroke="#FF5500" stroke-width="0.6"/><polygon points="1753.9,2539.8 1747.5,2540.0 1733.9,2539.6 1720.4,2538.2 1719.1,2538.0 1720.5,2527.6 1721.7,2527.8 1734.6,2529.1 1747.5,2529.5 1753.6,2529.3" fill="#FFAA00" stroke="#FFAA00" stroke-width="0.6"/><polygon points="1719.1,2538.0 1707.0,2536.0 1693.7,2532.9 1692.9,2532.7 1695.7,2522.6 1696.4,2522.8 1709.0,2525.7 1720.5,2527.6" fill="#FFFF00" stroke="#FFFF00" stroke-width="0.6"/><polygon points="1692.9,2532.7 1680.7,2529.0 1668.0,2524.2 1655.6,2518.6 1643.6,2512.2 1640.8,2510.4 1646.2,2501.4 1648.9,2503.1 1660.2,2509.2 1672.0,2514.5 1684.1,2519.0 1695.7,2522.6" fill="#00FF00" stroke="#00FF00" stroke-width="0.6"/><polygon points="1640.8,2510.4 1632.1,2505.0 1621.0,2497.1 1612.5,2490.1 1619.3,2482.1 1627.4,2488.7 1637.9,2496.2 1646.2,2501.4" fill="#00FF40" stroke="#00FF40" stroke-width="0.6"/><polygon points="1612.5,2490.1 1610.5,2488.4 1600.6,2479.1 1591.3,2469.2 1586.7,2463.7 1594.8,2457.0 1599.2,2462.3 1608.0,2471.7 1617.4,2480.5 1619.3,2482.1" fill="#00FFA0" stroke="#00FFA0" stroke-width="0.6"/><polygon points="1586.7,2463.7 1582.6,2458.7 1574.7,2447.6 1567.5,2436.1 1566.8,2434.7 1575.9,2429.5 1576.6,2430.8 1583.5,2441.8 1591.0,2452.3 1594.8,2457.0" fill="#00FFFF" stroke="#00FFFF" stroke-width="0.6"/><polygon points="1566.8,2434.7 1561.1,2424.1 1555.5,2411.7 1550.7,2399.0 1549.1,2393.6 1559.1,2390.5 1560.7,2395.6 1565.2,2407.7 1570.5,2419.5 1575.9,2429.5" fill="#0080FF" stroke="#0080FF" stroke-width="0.6"/><polygon points="1549.1,2393.6 1546.8,2386.0 1543.7,2372.7 1541.5,2359.3 1540.1,2345.8 1539.7,2332.2 1540.1,2318.6 1541.5,2305.1 1543.7,2291.7 1546.8,2278.4 1550.7,2265.4 1552.8,2259.8 1562.7,2263.4 1560.7,2268.8 1556.9,2281.1 1554.0,2293.7 1551.9,2306.4 1550.6,2319.3 1550.2,2332.2 1550.6,2345.1 1551.9,2358.0 1554.0,2370.7 1556.9,2383.3 1559.1,2390.5" fill="#0000FF" stroke="#0000FF" stroke-width="0.6"/><polygon points="1552.8,2259.8 1555.5,2252.7 1561.1,2240.3 1567.5,2228.3 1573.6,2218.6 1582.4,2224.3 1576.6,2233.5 1570.5,2244.9 1565.2,2256.7 1562.7,2263.4" fill="#0080FF" stroke="#0080FF" stroke-width="0.6"/><polygon points="1573.6,2218.6 1574.7,2216.8 1582.6,2205.7 1591.3,2195.2 1599.9,2186.0 1607.3,2193.4 1599.2,2202.1 1591.0,2212.1 1583.5,2222.6 1582.4,2224.3" fill="#00FFFF" stroke="#00FFFF" stroke-width="0.6"/><polygon points="1599.9,2186.0 1600.6,2185.3 1610.5,2176.0 1621.0,2167.3 1627.1,2162.9 1633.2,2171.5 1627.4,2175.7 1617.4,2183.9 1608.0,2192.7 1607.3,2193.4" fill="#00FFA0" stroke="#00FFA0" stroke-width="0.6"/><polygon points="1627.1,2162.9 1632.1,2159.4 1643.6,2152.2 1655.6,2145.8 1656.5,2145.4 1661.1,2154.9 1660.2,2155.2 1648.8,2161.3 1637.9,2168.2 1633.2,2171.5" fill="#00FF40" stroke="#00FF40" stroke-width="0.6"/><polygon points="1656.5,2145.4 1668.0,2140.2 1680.7,2135.4 1693.7,2131.5 1707.0,2128.4 1710.3,2127.8 1712.2,2138.2 1709.0,2138.7 1696.4,2141.6 1684.1,2145.4 1672.0,2149.9 1661.1,2154.9" fill="#00FF00" stroke="#00FF00" stroke-width="0.6"/><polygon points="1954.8,2332.2 1954.4,2345.8 1953.0,2359.3 1950.8,2372.6 1947.7,2385.9 1943.8,2398.8 1939.0,2411.5 1933.4,2423.9 1927.0,2435.8 1919.9,2447.4 1912.0,2458.4 1903.4,2468.9 1894.1,2478.8 1884.2,2488.1 1873.7,2496.7 1862.7,2504.6 1851.2,2511.7 1839.2,2518.1 1826.8,2523.7 1814.1,2528.5 1801.2,2532.4 1787.9,2535.5 1774.6,2537.7 1761.1,2539.1 1747.5,2539.5 1733.9,2539.1 1720.4,2537.7 1707.1,2535.5 1693.8,2532.4 1680.9,2528.5 1668.2,2523.7 1655.8,2518.1 1643.9,2511.7 1632.3,2504.6 1621.3,2496.7 1610.8,2488.1 1600.9,2478.8 1591.6,2468.9 1583.0,2458.4 1575.1,2447.4 1568.0,2435.8 1561.6,2423.9 1556.0,2411.5 1551.2,2398.8 1547.3,2385.9 1544.2,2372.6 1542.0,2359.3 1540.6,2345.8 1540.2,2332.2 1540.6,2318.6 1542.0,2305.1 1544.2,2291.8 1547.3,2278.5 1551.2,2265.6 1556.0,2252.9 1561.6,2240.5 1568.0,2228.5 1575.1,2217.0 1583.0,2206.0 1591.6,2195.5 1600.9,2185.6 1610.8,2176.3 1621.3,2167.7 1632.3,2159.8 1643.8,2152.7 1655.8,2146.3 1668.2,2140.7 1680.9,2135.9 1693.8,2132.0 1707.1,2128.9 1720.4,2126.7 1733.9,2125.3 1747.5,2124.9 1761.1,2125.3 1774.6,2126.7 1787.9,2128.9 1801.2,2132.0 1814.1,2135.9 1826.8,2140.7 1839.2,2146.3 1851.2,2152.7 1862.7,2159.8 1873.7,2167.7 1884.2,2176.3 1894.1,2185.6 1903.4,2195.5 1912.0,2206.0 1919.9,2217.0 1927.0,2228.5 1933.4,2240.5 1939.0,2252.9 1943.8,2265.6 1947.7,2278.5 1950.8,2291.8 1953.0,2305.1 1954.4,2318.6" fill="none" stroke="#000" stroke-width="1.6" stroke-dasharray="2.2 4"/><polygon points="1945.3,2332.2 1944.9,2345.1 1943.6,2358.0 1941.5,2370.8 1938.6,2383.4 1934.8,2395.8 1930.2,2407.9 1924.9,2419.7 1918.8,2431.1 1912.0,2442.1 1904.4,2452.6 1896.2,2462.6 1887.4,2472.1 1877.9,2480.9 1867.9,2489.1 1857.4,2496.7 1846.4,2503.5 1835.0,2509.6 1823.2,2514.9 1811.1,2519.5 1798.7,2523.3 1786.1,2526.2 1773.3,2528.3 1760.4,2529.6 1747.5,2530.0 1734.6,2529.6 1721.7,2528.3 1708.9,2526.2 1696.3,2523.3 1683.9,2519.5 1671.8,2514.9 1660.0,2509.6 1648.6,2503.5 1637.6,2496.7 1627.1,2489.1 1617.1,2480.9 1607.6,2472.1 1598.8,2462.6 1590.6,2452.6 1583.0,2442.1 1576.2,2431.1 1570.1,2419.7 1564.8,2407.9 1560.2,2395.8 1556.4,2383.4 1553.5,2370.8 1551.4,2358.0 1550.1,2345.1 1549.7,2332.2 1550.1,2319.3 1551.4,2306.4 1553.5,2293.6 1556.4,2281.0 1560.2,2268.6 1564.8,2256.5 1570.1,2244.7 1576.2,2233.3 1583.0,2222.3 1590.6,2211.8 1598.8,2201.8 1607.6,2192.3 1617.1,2183.5 1627.1,2175.3 1637.6,2167.7 1648.6,2160.9 1660.0,2154.8 1671.8,2149.5 1683.9,2144.9 1696.3,2141.1 1708.9,2138.2 1721.7,2136.1 1734.6,2134.8 1747.5,2134.4 1760.4,2134.8 1773.3,2136.1 1786.1,2138.2 1798.7,2141.1 1811.1,2144.9 1823.2,2149.5 1835.0,2154.8 1846.4,2160.9 1857.4,2167.7 1867.9,2175.3 1877.9,2183.5 1887.4,2192.3 1896.2,2201.8 1904.4,2211.8 1912.0,2222.3 1918.8,2233.3 1924.9,2244.7 1930.2,2256.5 1934.8,2268.6 1938.6,2281.0 1941.5,2293.6 1943.6,2306.4 1944.9,2319.3" fill="none" stroke="#000" stroke-width="1.3" stroke-dasharray="2.2 4.5"/>
<text x="1672.5" y="2173.8" font-size="38.8" font-weight="bold" textLength="105.1" lengthAdjust="spacingAndGlyphs">-97.82</text>
<text x="1600.6" y="2227.3" font-size="41.5" font-weight="bold">-161</text>
<text x="1555.5" y="2265.7" font-size="41.5" font-weight="bold">-224.3</text>
<text x="1567.2" y="2387.7" font-size="38.9" font-weight="bold" textLength="104.9" lengthAdjust="spacingAndGlyphs">-287.5</text>
<text x="1827.6" y="2407.7" font-size="38.9" font-weight="bold" textLength="92.1" lengthAdjust="spacingAndGlyphs">28.62</text>
<text x="1695.9" y="2523.0" font-size="41.4" font-weight="bold" textLength="103.2" lengthAdjust="spacingAndGlyphs">-34.60</text>
<text x="1702.6" y="2586.5" font-size="38.6" textLength="94.2" lengthAdjust="spacingAndGlyphs">90kN</text>
</svg>
</body></html>
